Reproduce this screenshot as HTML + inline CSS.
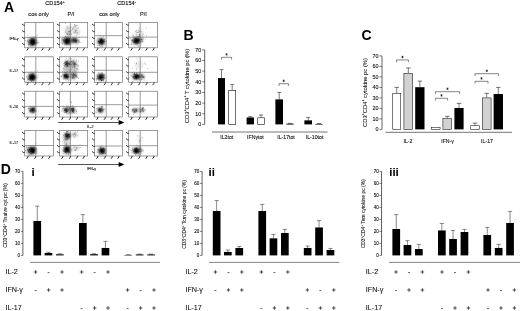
<!DOCTYPE html>
<html><head><meta charset="utf-8"><title>Figure</title>
<style>
html,body{margin:0;padding:0;background:#fff;}
body{width:520px;height:311px;overflow:hidden;font-family:"Liberation Sans",sans-serif;}
svg{display:block;filter:grayscale(1);}
svg text{font-family:"Liberation Sans",sans-serif;}
</style></head><body>
<svg width="520" height="311" viewBox="0 0 520 311">
<defs><filter id="bl" x="-50%" y="-50%" width="200%" height="200%"><feGaussianBlur stdDeviation="0.8"/></filter></defs>
<rect width="520" height="311" fill="#fff"/>
<text x="4.00" y="11.60" font-size="14" text-anchor="start" font-weight="bold" fill="#000"  >A</text>
<text x="183.60" y="39.60" font-size="14" text-anchor="start" font-weight="bold" fill="#000"  >B</text>
<text x="361.60" y="39.80" font-size="14" text-anchor="start" font-weight="bold" fill="#000"  >C</text>
<text x="0.80" y="173.80" font-size="14" text-anchor="start" font-weight="bold" fill="#000"  >D</text>
<text x="31.40" y="175.50" font-size="11.5" text-anchor="start" font-weight="bold" fill="#000"  >i</text>
<text x="208.60" y="175.50" font-size="11.5" text-anchor="start" font-weight="bold" fill="#000"  >ii</text>
<text x="389.20" y="175.50" font-size="11.5" text-anchor="start" font-weight="bold" fill="#000"  >iii</text>
<text x="55.00" y="5.40" font-size="5.6" text-anchor="middle" font-weight="normal" fill="#000" stroke="#000" stroke-width="0.1" >CD154<tspan font-size="3.4" dy="-2">+</tspan></text>
<text x="126.50" y="5.40" font-size="5.6" text-anchor="middle" font-weight="normal" fill="#000" stroke="#000" stroke-width="0.1" >CD154<tspan font-size="3.4" dy="-2">-</tspan></text>
<text x="38.60" y="16.20" font-size="5.6" text-anchor="middle" font-weight="normal" fill="#111" stroke="#111" stroke-width="0.1" >cos only</text>
<text x="71.00" y="16.20" font-size="5.6" text-anchor="middle" font-weight="normal" fill="#111" stroke="#111" stroke-width="0.1" >P/I</text>
<text x="109.40" y="16.20" font-size="5.6" text-anchor="middle" font-weight="normal" fill="#111" stroke="#111" stroke-width="0.1" >cos only</text>
<text x="143.40" y="16.20" font-size="5.6" text-anchor="middle" font-weight="normal" fill="#111" stroke="#111" stroke-width="0.1" >P/I</text>
<text x="9.60" y="39.90" font-size="3.7" text-anchor="start" font-weight="normal" fill="#111" stroke="#111" stroke-width="0.1" >IFN-γ</text>
<text x="9.60" y="72.10" font-size="3.7" text-anchor="start" font-weight="normal" fill="#111" stroke="#111" stroke-width="0.1" >IL-17</text>
<text x="9.60" y="108.40" font-size="3.7" text-anchor="start" font-weight="normal" fill="#111" stroke="#111" stroke-width="0.1" >IL-10</text>
<text x="9.60" y="144.40" font-size="3.7" text-anchor="start" font-weight="normal" fill="#111" stroke="#111" stroke-width="0.1" >IL-17</text>
<g filter="url(#bl)">
<ellipse cx="32.9" cy="41.8" rx="2.9" ry="3.4" fill="#000" opacity="1.0"/>
<ellipse cx="32.4" cy="41.8" rx="5.0" ry="4.6" fill="#000" opacity="0.45"/>
</g>
<path d="M31.8 43.1h.01M31.9 41.0h.01M30.1 41.2h.01M35.4 42.9h.01M35.2 42.4h.01M33.5 42.3h.01M28.2 44.0h.01M33.8 43.1h.01M28.1 37.3h.01M30.2 40.6h.01M33.3 41.7h.01M33.9 40.1h.01M33.3 42.8h.01M30.8 46.3h.01M33.9 44.9h.01M30.9 39.9h.01M31.6 41.5h.01M34.1 42.4h.01M31.3 39.3h.01M31.1 45.0h.01M30.4 42.4h.01M33.6 37.9h.01M32.6 45.2h.01M27.3 41.0h.01M32.2 39.7h.01M33.8 41.6h.01M28.7 44.0h.01M34.2 44.3h.01M36.2 42.7h.01M32.8 38.4h.01M34.1 40.2h.01M31.3 38.5h.01M30.0 40.4h.01M35.9 36.5h.01M28.7 42.4h.01M36.3 43.3h.01M27.6 35.3h.01M33.4 39.9h.01M29.6 44.3h.01M35.4 42.2h.01M33.1 42.9h.01M36.6 43.4h.01M33.8 43.2h.01M28.4 45.1h.01M35.0 43.2h.01M27.4 40.2h.01M34.7 37.1h.01M32.0 44.5h.01M29.1 46.0h.01M33.9 41.4h.01M33.3 43.5h.01M32.8 44.8h.01M30.8 40.7h.01M35.2 41.9h.01M30.2 44.3h.01M36.3 40.6h.01M28.9 41.4h.01M32.1 41.0h.01M36.2 39.1h.01M35.8 38.5h.01M30.5 43.4h.01M35.4 44.0h.01M33.4 42.2h.01M32.9 43.3h.01M32.0 42.5h.01M34.0 41.8h.01M34.5 43.3h.01M37.7 42.6h.01M31.4 40.8h.01M32.5 44.2h.01M31.6 42.8h.01M37.3 35.1h.01M29.6 42.4h.01M33.5 42.4h.01M31.4 43.5h.01M33.2 40.4h.01M38.8 42.7h.01M31.1 41.5h.01M31.9 41.6h.01M25.4 40.5h.01" stroke="#000" stroke-opacity="0.5" stroke-width="0.65" stroke-linecap="round" fill="none"/>
<rect x="24.70" y="22.40" width="28.70" height="25.40" fill="none" stroke="#686868" stroke-width="0.65"/>
<line x1="35.80" y1="22.40" x2="35.80" y2="47.80" stroke="#686868" stroke-width="0.65" />
<line x1="24.70" y1="37.40" x2="53.40" y2="37.40" stroke="#686868" stroke-width="0.65" />
<path d="M22.10 23.94L23.80 25.24H24.70M22.10 30.42L23.80 31.72H24.70M22.10 37.02L23.80 38.32H24.70M22.10 43.24L23.80 44.54H24.70M28.00 47.80V48.80L26.70 50.60M35.75 47.80V48.80L34.45 50.60M42.92 47.80V48.80L41.62 50.60M49.81 47.80V48.80L48.51 50.60" stroke="#222" stroke-width="0.95" fill="none"/>
<g filter="url(#bl)">
<ellipse cx="67.0" cy="41.0" rx="2.8" ry="2.8" fill="#000" opacity="1.0"/>
<ellipse cx="67.2" cy="41.0" rx="4.8" ry="4.2" fill="#000" opacity="0.45"/>
<ellipse cx="75.0" cy="40.4" rx="3.0" ry="2.4" fill="#000" opacity="0.6"/>
<ellipse cx="71" cy="40.6" rx="8" ry="3.2" fill="#000" opacity="0.28"/>
<ellipse cx="68" cy="31" rx="3.2" ry="5" fill="#000" opacity="0.18"/>
<ellipse cx="75.5" cy="30.5" rx="3.2" ry="4.5" fill="#000" opacity="0.15"/>
</g>
<path d="M69.4 38.3h.01M66.8 43.2h.01M69.1 44.4h.01M62.9 40.2h.01M66.2 42.4h.01M69.6 34.8h.01M69.6 37.7h.01M68.6 37.6h.01M67.4 43.7h.01M66.6 41.4h.01M68.9 41.3h.01M66.8 44.5h.01M69.5 40.3h.01M73.6 38.4h.01M69.2 40.4h.01M67.3 42.6h.01M67.5 42.5h.01M63.3 37.5h.01M68.5 38.8h.01M64.5 37.6h.01M70.0 42.7h.01M70.5 38.8h.01M67.0 38.4h.01M68.8 44.7h.01M64.9 44.6h.01M69.4 40.6h.01M62.3 44.2h.01M66.8 39.6h.01M68.0 41.9h.01M70.6 38.7h.01M69.7 44.4h.01M70.5 40.6h.01M65.2 43.3h.01M67.3 41.3h.01M70.4 40.4h.01M61.5 40.1h.01M62.6 42.9h.01M67.8 39.6h.01M67.0 42.9h.01M67.2 44.1h.01M66.9 43.4h.01M70.6 44.7h.01M65.4 43.0h.01M62.5 38.5h.01M62.3 43.5h.01M64.0 41.0h.01M66.5 40.9h.01M65.6 41.5h.01M71.3 41.1h.01M68.3 43.3h.01M66.5 38.1h.01M65.7 43.5h.01M63.0 39.6h.01M69.4 42.8h.01M67.0 42.9h.01M67.4 38.3h.01M63.2 39.5h.01M69.2 39.7h.01M64.8 39.2h.01M63.3 40.7h.01M64.2 41.8h.01M61.3 41.8h.01M65.5 36.5h.01M68.7 40.4h.01M61.6 39.0h.01M67.7 39.9h.01M68.9 42.7h.01M68.6 41.8h.01M70.2 42.5h.01M68.1 36.2h.01M77.0 42.8h.01M74.3 39.6h.01M79.3 37.2h.01M76.0 44.8h.01M73.0 41.6h.01M79.2 40.2h.01M76.2 42.0h.01M73.0 40.2h.01M75.6 41.9h.01M74.9 40.0h.01M72.8 39.8h.01M77.0 40.6h.01M73.1 38.9h.01M80.9 42.5h.01M76.4 35.7h.01M76.4 41.3h.01M78.7 41.2h.01M74.9 41.3h.01M70.7 42.3h.01M75.7 39.1h.01M77.9 43.7h.01M71.9 39.2h.01M75.6 40.7h.01M74.1 38.6h.01M79.7 42.3h.01M72.4 38.0h.01M78.7 42.2h.01M79.0 41.9h.01M73.1 40.9h.01M70.2 39.1h.01M74.9 41.3h.01M73.4 40.2h.01M76.0 41.1h.01M76.4 40.8h.01M74.3 41.8h.01M75.1 38.9h.01M73.6 40.4h.01M74.8 40.7h.01M75.0 40.7h.01M74.7 38.1h.01M75.9 42.3h.01M76.0 40.1h.01M76.0 38.7h.01M70.8 40.5h.01M73.0 41.7h.01M65.6 23.1h.01M65.7 36.5h.01M67.2 27.1h.01M66.3 33.2h.01M69.1 32.1h.01M71.3 33.8h.01M68.0 33.4h.01M71.6 34.6h.01M70.3 28.0h.01M67.7 33.8h.01M67.3 34.9h.01M69.3 34.4h.01M67.5 39.6h.01M70.7 30.8h.01M68.2 39.8h.01M67.2 34.3h.01M70.2 31.5h.01M65.4 32.1h.01M68.8 35.1h.01M69.7 31.6h.01M69.9 33.2h.01M68.5 31.7h.01M74.9 32.6h.01M73.0 28.6h.01M75.5 26.1h.01M74.5 24.5h.01M73.9 32.2h.01M76.9 30.3h.01M74.9 26.2h.01M79.9 32.0h.01M78.1 27.9h.01M75.1 25.0h.01M77.4 33.3h.01M70.9 30.3h.01M77.0 25.2h.01M71.1 27.3h.01M74.0 26.3h.01M75.6 31.2h.01M77.0 32.6h.01M79.1 34.0h.01M72.4 29.0h.01M73.0 27.3h.01M75.3 30.5h.01M76.7 25.7h.01" stroke="#000" stroke-opacity="0.5" stroke-width="0.65" stroke-linecap="round" fill="none"/>
<rect x="59.60" y="22.40" width="28.10" height="25.40" fill="none" stroke="#686868" stroke-width="0.65"/>
<line x1="70.40" y1="22.40" x2="70.40" y2="47.80" stroke="#686868" stroke-width="0.65" />
<line x1="59.60" y1="37.20" x2="87.70" y2="37.20" stroke="#686868" stroke-width="0.65" />
<path d="M57.00 23.94L58.70 25.24H59.60M57.00 30.42L58.70 31.72H59.60M57.00 37.02L58.70 38.32H59.60M57.00 43.24L58.70 44.54H59.60M62.83 47.80V48.80L61.53 50.60M70.42 47.80V48.80L69.12 50.60M77.44 47.80V48.80L76.14 50.60M84.19 47.80V48.80L82.89 50.60" stroke="#222" stroke-width="0.95" fill="none"/>
<g filter="url(#bl)">
<ellipse cx="101.3" cy="41.6" rx="2.5" ry="2.8" fill="#000" opacity="1.0"/>
<ellipse cx="101.2" cy="41.6" rx="4.4" ry="4.0" fill="#000" opacity="0.42"/>
</g>
<path d="M98.5 41.5h.01M100.8 40.9h.01M101.1 39.9h.01M102.7 42.4h.01M101.0 40.1h.01M100.8 35.6h.01M99.0 41.7h.01M97.9 42.0h.01M101.5 38.6h.01M100.6 40.9h.01M102.2 42.9h.01M101.1 39.7h.01M100.9 41.5h.01M102.8 42.2h.01M99.6 38.6h.01M100.4 40.0h.01M98.8 41.3h.01M100.1 41.8h.01M102.4 40.7h.01M106.3 40.9h.01M103.6 41.9h.01M103.7 36.4h.01M99.5 42.1h.01M102.5 46.7h.01M101.9 44.4h.01M102.9 43.7h.01M102.3 41.3h.01M102.3 39.2h.01M103.8 39.4h.01M101.7 46.3h.01M100.7 41.6h.01M103.8 41.7h.01M99.4 42.2h.01M102.5 43.2h.01M99.5 45.5h.01M104.9 41.6h.01M101.8 40.7h.01M104.3 40.0h.01M102.7 40.5h.01M99.7 43.2h.01M104.1 41.6h.01M99.7 43.4h.01M101.1 42.3h.01M104.6 44.1h.01M100.1 46.6h.01M101.2 43.3h.01M99.8 41.5h.01M97.4 45.5h.01M104.2 38.9h.01M97.9 38.0h.01M103.8 40.6h.01M101.1 40.9h.01M100.9 39.2h.01M101.3 38.4h.01M101.0 42.3h.01" stroke="#000" stroke-opacity="0.5" stroke-width="0.65" stroke-linecap="round" fill="none"/>
<rect x="94.60" y="22.40" width="27.80" height="25.40" fill="none" stroke="#686868" stroke-width="0.65"/>
<line x1="106.20" y1="22.40" x2="106.20" y2="47.80" stroke="#686868" stroke-width="0.65" />
<line x1="94.60" y1="35.70" x2="122.40" y2="35.70" stroke="#686868" stroke-width="0.65" />
<path d="M92.00 23.94L93.70 25.24H94.60M92.00 30.42L93.70 31.72H94.60M92.00 37.02L93.70 38.32H94.60M92.00 43.24L93.70 44.54H94.60M97.80 47.80V48.80L96.50 50.60M105.30 47.80V48.80L104.00 50.60M112.25 47.80V48.80L110.95 50.60M118.93 47.80V48.80L117.63 50.60" stroke="#222" stroke-width="0.95" fill="none"/>
<g filter="url(#bl)">
<ellipse cx="136.5" cy="40.6" rx="2.6" ry="2.6" fill="#000" opacity="1.0"/>
<ellipse cx="137.0" cy="40.6" rx="5.6" ry="4.0" fill="#000" opacity="0.42"/>
<ellipse cx="139.5" cy="33.5" rx="4.5" ry="4.0" fill="#000" opacity="0.1"/>
</g>
<path d="M138.6 40.0h.01M133.9 41.0h.01M135.4 44.7h.01M139.6 40.3h.01M135.4 38.8h.01M133.8 39.7h.01M138.0 41.9h.01M138.9 46.1h.01M134.6 40.6h.01M146.5 35.7h.01M135.2 41.0h.01M137.5 41.7h.01M136.2 41.6h.01M137.2 42.6h.01M130.6 38.3h.01M137.0 37.9h.01M133.4 42.2h.01M134.8 42.3h.01M139.5 41.4h.01M138.7 40.3h.01M132.2 40.5h.01M138.5 39.2h.01M136.7 42.5h.01M134.0 42.3h.01M143.3 39.2h.01M137.5 40.2h.01M142.2 41.4h.01M140.1 38.8h.01M136.9 40.6h.01M131.0 44.3h.01M140.1 36.1h.01M139.5 40.3h.01M138.5 41.6h.01M131.9 40.0h.01M142.1 39.1h.01M133.5 37.1h.01M132.8 41.5h.01M142.8 41.7h.01M137.8 46.4h.01M135.2 38.8h.01M138.8 42.0h.01M133.5 37.6h.01M138.0 41.2h.01M132.6 40.1h.01M135.2 41.8h.01M136.6 40.4h.01M135.8 43.3h.01M141.7 39.6h.01M139.9 38.6h.01M137.2 42.5h.01M142.1 39.6h.01M136.7 41.1h.01M131.9 40.6h.01M134.7 41.6h.01M133.2 35.5h.01M137.1 41.3h.01M135.1 42.9h.01M136.1 39.0h.01M138.6 36.5h.01M134.7 40.5h.01M139.9 40.2h.01M138.0 38.9h.01M138.0 44.9h.01M134.7 46.8h.01M134.8 40.6h.01M137.6 43.3h.01M132.8 35.1h.01M139.1 42.7h.01M137.7 41.3h.01M140.2 41.6h.01M142.7 37.4h.01M135.7 31.6h.01M139.8 39.6h.01M140.1 46.2h.01M137.0 39.9h.01M135.3 38.4h.01M134.9 42.3h.01M137.1 40.8h.01M136.4 43.0h.01M138.7 40.2h.01M139.3 40.2h.01M133.1 44.4h.01M138.6 38.1h.01M140.7 41.5h.01M131.7 44.8h.01M138.1 42.9h.01M137.7 40.2h.01M131.7 43.1h.01M137.1 39.9h.01M138.2 40.8h.01M139.3 39.6h.01M136.9 35.0h.01M135.6 42.4h.01M141.5 39.7h.01M136.6 44.7h.01M135.9 42.5h.01M142.7 40.7h.01M141.2 38.8h.01M137.7 40.4h.01M137.4 43.5h.01M145.1 38.9h.01M135.0 41.9h.01M133.4 41.9h.01M138.9 39.9h.01M138.8 36.6h.01M139.6 36.6h.01M134.6 39.2h.01M135.6 42.8h.01M137.3 39.6h.01M141.1 37.9h.01M139.5 34.5h.01M143.2 34.2h.01M135.6 40.5h.01M146.1 27.9h.01M139.4 34.7h.01M142.4 35.4h.01M138.7 30.5h.01M139.8 36.4h.01M136.2 30.6h.01M139.4 28.1h.01M138.7 32.3h.01M140.9 31.5h.01M136.9 32.4h.01M139.4 31.6h.01M139.5 35.6h.01M143.1 38.3h.01M137.1 32.3h.01" stroke="#000" stroke-opacity="0.5" stroke-width="0.65" stroke-linecap="round" fill="none"/>
<rect x="128.70" y="22.40" width="28.80" height="25.40" fill="none" stroke="#686868" stroke-width="0.65"/>
<line x1="140.20" y1="22.40" x2="140.20" y2="47.80" stroke="#686868" stroke-width="0.65" />
<line x1="128.70" y1="37.10" x2="157.50" y2="37.10" stroke="#686868" stroke-width="0.65" />
<path d="M126.10 23.94L127.80 25.24H128.70M126.10 30.42L127.80 31.72H128.70M126.10 37.02L127.80 38.32H128.70M126.10 43.24L127.80 44.54H128.70M132.01 47.80V48.80L130.71 50.60M139.79 47.80V48.80L138.49 50.60M146.99 47.80V48.80L145.69 50.60M153.90 47.80V48.80L152.60 50.60" stroke="#222" stroke-width="0.95" fill="none"/>
<g filter="url(#bl)">
<ellipse cx="32.2" cy="77.3" rx="2.9" ry="3.2" fill="#000" opacity="1.0"/>
<ellipse cx="32.0" cy="77.2" rx="4.6" ry="4.4" fill="#000" opacity="0.45"/>
</g>
<path d="M26.0 81.8h.01M30.3 77.1h.01M33.3 73.9h.01M33.1 77.1h.01M27.6 77.9h.01M34.9 72.7h.01M33.9 77.7h.01M33.1 78.3h.01M35.1 76.7h.01M34.1 76.2h.01M33.7 75.2h.01M31.7 81.4h.01M33.1 76.8h.01M29.3 75.3h.01M32.5 79.5h.01M33.0 78.5h.01M31.9 80.4h.01M31.1 75.9h.01M34.1 77.4h.01M31.3 75.8h.01M31.4 78.7h.01M32.8 74.3h.01M33.0 77.6h.01M29.6 79.1h.01M31.3 76.4h.01M33.9 80.4h.01M30.3 78.3h.01M30.8 80.1h.01M30.4 79.1h.01M37.3 71.1h.01M31.0 78.4h.01M31.8 75.6h.01M37.2 77.4h.01M28.1 79.2h.01M27.9 80.0h.01M30.6 77.5h.01M35.0 77.5h.01M28.7 73.1h.01M34.8 79.0h.01M30.0 79.3h.01M33.2 78.8h.01M26.6 76.5h.01M34.2 79.0h.01M34.1 71.3h.01M32.4 78.4h.01M38.1 74.9h.01M31.2 77.3h.01M34.1 76.1h.01M34.8 75.3h.01M32.6 75.9h.01M32.4 75.5h.01M28.2 79.8h.01M32.7 75.9h.01M32.5 79.6h.01M29.7 76.9h.01M33.3 78.5h.01M31.2 72.1h.01M35.0 78.0h.01M32.0 76.5h.01M32.6 76.2h.01M29.5 75.4h.01M30.6 75.7h.01M29.2 78.7h.01M28.9 78.8h.01M29.6 78.0h.01M35.3 77.7h.01M30.2 77.3h.01M32.4 73.0h.01M30.5 77.6h.01" stroke="#000" stroke-opacity="0.5" stroke-width="0.65" stroke-linecap="round" fill="none"/>
<rect x="24.70" y="56.80" width="28.70" height="25.60" fill="none" stroke="#686868" stroke-width="0.65"/>
<line x1="35.80" y1="56.80" x2="35.80" y2="82.40" stroke="#686868" stroke-width="0.65" />
<line x1="24.70" y1="72.30" x2="53.40" y2="72.30" stroke="#686868" stroke-width="0.65" />
<path d="M22.10 58.36L23.80 59.66H24.70M22.10 64.89L23.80 66.19H24.70M22.10 71.54L23.80 72.84H24.70M22.10 77.82L23.80 79.12H24.70M28.00 82.40V83.40L26.70 85.20M35.75 82.40V83.40L34.45 85.20M42.92 82.40V83.40L41.62 85.20M49.81 82.40V83.40L48.51 85.20" stroke="#222" stroke-width="0.95" fill="none"/>
<g filter="url(#bl)">
<ellipse cx="66.0" cy="76.3" rx="2.6" ry="2.6" fill="#000" opacity="0.95"/>
<ellipse cx="66.8" cy="63.6" rx="2.4" ry="2.3" fill="#000" opacity="0.7"/>
<ellipse cx="74.3" cy="63.6" rx="2.4" ry="2.3" fill="#000" opacity="0.42"/>
<ellipse cx="74.3" cy="75.8" rx="2.6" ry="2.3" fill="#000" opacity="0.4"/>
<ellipse cx="70.4" cy="70" rx="7.5" ry="9.5" fill="#000" opacity="0.22"/>
</g>
<path d="M65.1 76.5h.01M67.5 77.8h.01M67.8 77.5h.01M65.4 76.3h.01M65.5 75.7h.01M65.6 72.9h.01M65.3 76.3h.01M64.1 76.3h.01M67.0 76.0h.01M70.2 71.1h.01M65.6 72.6h.01M68.0 81.6h.01M61.0 76.6h.01M67.0 75.7h.01M67.1 71.8h.01M67.7 77.0h.01M66.0 75.1h.01M67.3 75.3h.01M66.4 75.3h.01M61.5 76.2h.01M66.4 77.8h.01M64.2 76.2h.01M67.2 76.6h.01M68.5 80.3h.01M64.2 72.5h.01M67.7 79.4h.01M67.8 77.9h.01M64.8 74.9h.01M67.8 74.5h.01M62.4 74.3h.01M71.0 80.1h.01M64.6 74.8h.01M66.5 74.8h.01M68.6 76.1h.01M63.8 78.9h.01M64.8 76.7h.01M66.0 75.7h.01M66.6 74.9h.01M62.3 71.9h.01M63.5 74.8h.01M66.0 76.4h.01M67.1 76.5h.01M64.4 74.9h.01M61.8 76.0h.01M67.0 77.4h.01M66.6 63.3h.01M68.7 63.6h.01M68.3 64.7h.01M67.2 66.1h.01M65.7 62.9h.01M65.2 62.1h.01M69.9 66.9h.01M66.8 64.7h.01M69.2 65.1h.01M69.2 61.2h.01M65.5 64.5h.01M69.7 63.8h.01M65.1 62.9h.01M65.5 62.0h.01M69.8 62.4h.01M66.8 67.7h.01M69.2 64.2h.01M65.6 64.4h.01M70.0 64.8h.01M69.3 63.8h.01M67.8 63.2h.01M67.7 66.1h.01M63.9 63.5h.01M67.3 62.5h.01M66.2 65.1h.01M70.8 64.8h.01M67.5 60.7h.01M70.7 63.7h.01M66.7 61.5h.01M66.7 61.5h.01M66.9 64.5h.01M66.9 64.1h.01M65.1 66.3h.01M65.5 60.1h.01M66.4 62.1h.01M64.8 62.9h.01M67.4 61.4h.01M66.5 66.3h.01M68.2 63.3h.01M67.1 63.4h.01M74.2 65.0h.01M74.1 59.0h.01M74.3 61.9h.01M75.6 62.4h.01M74.6 67.7h.01M72.2 61.5h.01M71.5 59.0h.01M70.5 64.3h.01M73.0 60.1h.01M71.3 64.8h.01M72.7 62.9h.01M75.0 66.2h.01M78.2 65.6h.01M74.6 63.9h.01M77.9 66.3h.01M73.7 64.5h.01M74.9 63.7h.01M73.3 61.1h.01M73.2 60.7h.01M76.7 64.6h.01M71.9 66.3h.01M76.1 60.0h.01M78.0 65.1h.01M78.4 61.3h.01M75.4 64.4h.01M74.7 63.9h.01M76.4 60.8h.01M71.8 61.0h.01M73.2 62.4h.01M75.0 64.1h.01M74.4 74.6h.01M73.4 77.5h.01M75.8 76.0h.01M73.7 78.6h.01M73.1 77.0h.01M76.6 75.3h.01M76.0 73.8h.01M76.3 76.2h.01M71.1 77.0h.01M72.5 78.1h.01M72.9 75.5h.01M74.9 75.2h.01M74.8 74.8h.01M75.6 75.8h.01M74.7 70.8h.01M76.6 75.9h.01M70.7 76.0h.01M75.2 77.7h.01M72.1 78.6h.01M74.0 80.1h.01M74.0 77.0h.01M73.6 73.8h.01M76.5 77.4h.01M77.4 77.3h.01M73.2 72.8h.01M73.0 74.6h.01M72.7 76.8h.01M75.0 75.3h.01M71.1 69.2h.01M71.3 74.1h.01M74.2 66.2h.01M64.4 77.9h.01M70.9 76.1h.01M63.8 68.2h.01M70.5 62.1h.01M68.3 74.0h.01M74.7 78.8h.01M66.9 62.3h.01M72.5 75.2h.01M71.2 62.8h.01M73.5 74.4h.01M72.6 67.3h.01M71.6 74.3h.01M68.2 59.9h.01M71.7 72.6h.01M70.5 74.9h.01M68.1 69.5h.01M69.2 73.1h.01M76.8 68.6h.01M78.6 78.4h.01M73.6 73.2h.01M77.5 69.0h.01M70.0 64.2h.01M72.3 77.4h.01M72.5 72.3h.01M69.6 70.9h.01M64.7 75.8h.01M68.8 63.9h.01M67.4 65.5h.01M73.8 75.8h.01M65.0 75.1h.01M74.0 66.8h.01M64.5 65.9h.01M67.9 71.9h.01M69.0 58.8h.01M71.3 61.6h.01M74.0 63.4h.01M67.6 65.3h.01M68.2 77.1h.01M73.8 73.3h.01M71.7 61.5h.01M68.3 67.0h.01M66.5 72.8h.01M67.4 66.1h.01M66.2 58.7h.01M72.8 77.3h.01M71.1 64.6h.01" stroke="#000" stroke-opacity="0.5" stroke-width="0.65" stroke-linecap="round" fill="none"/>
<rect x="59.60" y="56.80" width="28.10" height="25.60" fill="none" stroke="#686868" stroke-width="0.65"/>
<line x1="70.40" y1="56.80" x2="70.40" y2="82.40" stroke="#686868" stroke-width="0.65" />
<line x1="59.60" y1="72.30" x2="87.70" y2="72.30" stroke="#686868" stroke-width="0.65" />
<path d="M57.00 58.36L58.70 59.66H59.60M57.00 64.89L58.70 66.19H59.60M57.00 71.54L58.70 72.84H59.60M57.00 77.82L58.70 79.12H59.60M62.83 82.40V83.40L61.53 85.20M70.42 82.40V83.40L69.12 85.20M77.44 82.40V83.40L76.14 85.20M84.19 82.40V83.40L82.89 85.20" stroke="#222" stroke-width="0.95" fill="none"/>
<g filter="url(#bl)">
<ellipse cx="101.0" cy="76.9" rx="2.5" ry="2.7" fill="#000" opacity="1.0"/>
<ellipse cx="100.8" cy="76.9" rx="4.2" ry="4.0" fill="#000" opacity="0.42"/>
</g>
<path d="M103.5 77.6h.01M102.8 80.2h.01M103.3 75.9h.01M103.1 78.6h.01M97.4 76.0h.01M97.7 76.7h.01M102.1 74.6h.01M96.3 79.8h.01M101.6 80.1h.01M97.9 79.2h.01M105.4 81.3h.01M100.3 77.5h.01M100.5 79.1h.01M103.1 77.1h.01M97.8 78.5h.01M99.8 78.3h.01M101.4 80.5h.01M103.3 75.9h.01M101.6 80.8h.01M99.6 77.9h.01M103.4 79.7h.01M101.9 74.0h.01M98.0 77.4h.01M98.9 79.4h.01M102.5 73.2h.01M99.0 77.3h.01M99.7 76.6h.01M101.8 75.1h.01M101.8 75.5h.01M99.6 78.1h.01M99.5 77.5h.01M104.3 77.0h.01M100.5 78.5h.01M100.0 79.3h.01M98.0 78.3h.01M99.7 75.1h.01M104.7 75.0h.01M104.7 78.3h.01M104.0 74.8h.01M103.4 80.1h.01M100.5 76.6h.01M106.2 77.3h.01M99.9 75.5h.01M101.8 77.6h.01M101.2 80.7h.01M100.1 77.9h.01M104.0 74.7h.01M103.1 80.9h.01M97.8 74.5h.01M98.5 72.8h.01M101.8 72.8h.01M101.9 80.1h.01M97.2 76.2h.01M96.6 78.6h.01" stroke="#000" stroke-opacity="0.5" stroke-width="0.65" stroke-linecap="round" fill="none"/>
<rect x="94.60" y="56.80" width="27.80" height="25.60" fill="none" stroke="#686868" stroke-width="0.65"/>
<line x1="106.20" y1="56.80" x2="106.20" y2="82.40" stroke="#686868" stroke-width="0.65" />
<line x1="94.60" y1="70.30" x2="122.40" y2="70.30" stroke="#686868" stroke-width="0.65" />
<path d="M92.00 58.36L93.70 59.66H94.60M92.00 64.89L93.70 66.19H94.60M92.00 71.54L93.70 72.84H94.60M92.00 77.82L93.70 79.12H94.60M97.80 82.40V83.40L96.50 85.20M105.30 82.40V83.40L104.00 85.20M112.25 82.40V83.40L110.95 85.20M118.93 82.40V83.40L117.63 85.20" stroke="#222" stroke-width="0.95" fill="none"/>
<g filter="url(#bl)">
<ellipse cx="136.5" cy="76.6" rx="2.7" ry="2.3" fill="#000" opacity="1.0"/>
<ellipse cx="138.2" cy="76.6" rx="6.4" ry="3.2" fill="#000" opacity="0.42"/>
<ellipse cx="139" cy="65" rx="5" ry="4.5" fill="#000" opacity="0.07"/>
</g>
<path d="M135.3 76.1h.01M138.2 77.7h.01M136.8 76.6h.01M136.0 76.8h.01M133.8 76.7h.01M131.0 75.6h.01M144.9 76.8h.01M133.5 77.1h.01M134.5 73.3h.01M135.3 78.1h.01M139.4 76.4h.01M134.7 74.4h.01M142.9 77.1h.01M134.6 72.4h.01M133.1 81.6h.01M133.9 76.4h.01M138.8 76.3h.01M137.0 73.9h.01M134.2 80.0h.01M135.3 78.3h.01M131.9 76.1h.01M138.9 78.7h.01M134.0 77.8h.01M139.4 75.1h.01M139.7 74.8h.01M135.1 76.6h.01M134.4 73.7h.01M136.5 78.1h.01M136.5 79.1h.01M133.8 74.0h.01M143.6 77.4h.01M141.4 74.9h.01M140.9 77.1h.01M140.3 76.7h.01M142.3 75.3h.01M134.5 73.6h.01M142.2 75.1h.01M134.2 74.7h.01M136.4 74.1h.01M137.0 75.3h.01M136.0 74.7h.01M138.1 75.7h.01M138.4 77.1h.01M139.2 72.2h.01M136.1 75.0h.01M140.8 73.4h.01M135.4 76.0h.01M136.8 78.6h.01M136.4 78.5h.01M132.7 73.0h.01M142.4 77.5h.01M139.8 76.8h.01M139.7 74.2h.01M141.4 75.5h.01M141.5 76.8h.01M130.9 74.0h.01M142.1 76.3h.01M136.6 77.1h.01M136.5 75.5h.01M138.4 76.9h.01M143.5 76.7h.01M144.8 80.2h.01M144.2 78.7h.01M138.5 76.9h.01M137.5 75.1h.01M137.8 75.3h.01M143.9 77.7h.01M136.4 72.8h.01M137.8 75.8h.01M134.1 74.3h.01M129.9 77.7h.01M137.8 81.8h.01M137.9 76.3h.01M143.2 76.9h.01M138.6 75.9h.01M135.8 79.6h.01M141.6 80.0h.01M136.7 76.7h.01M134.8 78.5h.01M133.0 77.7h.01M141.9 79.4h.01M134.6 78.8h.01M135.4 75.1h.01M133.2 78.9h.01M144.8 62.9h.01M136.3 63.8h.01M147.8 68.5h.01M137.1 58.7h.01M136.6 69.2h.01M145.5 64.1h.01M136.6 63.2h.01M132.4 68.2h.01" stroke="#000" stroke-opacity="0.5" stroke-width="0.65" stroke-linecap="round" fill="none"/>
<rect x="128.70" y="56.80" width="28.80" height="25.60" fill="none" stroke="#686868" stroke-width="0.65"/>
<line x1="140.20" y1="56.80" x2="140.20" y2="82.40" stroke="#686868" stroke-width="0.65" />
<line x1="128.70" y1="72.30" x2="157.50" y2="72.30" stroke="#686868" stroke-width="0.65" />
<path d="M126.10 58.36L127.80 59.66H128.70M126.10 64.89L127.80 66.19H128.70M126.10 71.54L127.80 72.84H128.70M126.10 77.82L127.80 79.12H128.70M132.01 82.40V83.40L130.71 85.20M139.79 82.40V83.40L138.49 85.20M146.99 82.40V83.40L145.69 85.20M153.90 82.40V83.40L152.60 85.20" stroke="#222" stroke-width="0.95" fill="none"/>
<g filter="url(#bl)">
<ellipse cx="32.7" cy="110.1" rx="2.3" ry="2.3" fill="#000" opacity="0.95"/>
<ellipse cx="32.3" cy="110.0" rx="3.8" ry="3.2" fill="#000" opacity="0.35"/>
</g>
<path d="M30.2 111.9h.01M29.0 107.7h.01M33.0 108.6h.01M34.0 110.0h.01M30.1 111.1h.01M34.1 106.6h.01M36.1 110.9h.01M33.9 106.7h.01M31.0 109.4h.01M34.6 107.4h.01M30.6 106.3h.01M31.9 110.6h.01M29.0 108.9h.01M33.4 112.9h.01M33.7 109.5h.01M30.0 108.3h.01M31.1 110.3h.01M32.3 113.0h.01M33.0 108.1h.01M35.5 111.7h.01M32.6 108.7h.01M28.7 108.2h.01M34.2 108.6h.01M29.8 110.4h.01M32.9 111.1h.01M33.7 112.5h.01M30.7 111.8h.01M30.4 111.2h.01M32.8 110.4h.01M34.3 110.0h.01M34.6 111.6h.01M32.7 109.0h.01M30.9 109.1h.01M32.0 110.0h.01M38.4 111.1h.01M33.9 108.5h.01M31.0 109.4h.01M32.8 108.1h.01" stroke="#000" stroke-opacity="0.5" stroke-width="0.65" stroke-linecap="round" fill="none"/>
<rect x="24.70" y="91.20" width="28.70" height="25.80" fill="none" stroke="#686868" stroke-width="0.65"/>
<line x1="35.80" y1="91.20" x2="35.80" y2="117.00" stroke="#686868" stroke-width="0.65" />
<line x1="24.70" y1="106.40" x2="53.40" y2="106.40" stroke="#686868" stroke-width="0.65" />
<path d="M22.10 92.78L23.80 94.08H24.70M22.10 99.36L23.80 100.66H24.70M22.10 106.07L23.80 107.37H24.70M22.10 112.39L23.80 113.69H24.70M28.00 117.00V118.00L26.70 119.80M35.75 117.00V118.00L34.45 119.80M42.92 117.00V118.00L41.62 119.80M49.81 117.00V118.00L48.51 119.80" stroke="#222" stroke-width="0.95" fill="none"/>
<g filter="url(#bl)">
<ellipse cx="66.2" cy="110.1" rx="2.4" ry="2.4" fill="#000" opacity="0.6"/>
<ellipse cx="72.6" cy="110.1" rx="2.4" ry="2.4" fill="#000" opacity="0.5"/>
<ellipse cx="69.4" cy="110.1" rx="6.5" ry="3.4" fill="#000" opacity="0.28"/>
</g>
<path d="M69.3 109.1h.01M68.2 105.9h.01M66.2 110.6h.01M66.6 111.2h.01M66.7 110.4h.01M62.6 108.8h.01M61.7 111.2h.01M66.8 109.7h.01M64.6 109.1h.01M69.7 113.2h.01M66.1 112.4h.01M63.2 106.6h.01M65.3 108.5h.01M65.1 110.4h.01M71.9 108.9h.01M66.3 110.6h.01M66.1 111.8h.01M69.6 107.9h.01M66.5 109.6h.01M66.9 107.3h.01M62.9 105.9h.01M67.2 110.4h.01M66.3 105.8h.01M65.5 108.7h.01M63.5 108.5h.01M67.5 111.1h.01M66.2 111.0h.01M65.1 110.2h.01M66.3 111.1h.01M66.1 109.8h.01M65.9 108.9h.01M70.4 111.0h.01M67.0 114.2h.01M68.9 107.3h.01M67.5 111.6h.01M69.8 112.5h.01M67.7 108.0h.01M64.5 110.6h.01M67.2 108.3h.01M65.5 109.4h.01M72.7 110.7h.01M72.1 107.9h.01M75.0 113.0h.01M72.4 111.9h.01M73.4 111.3h.01M73.5 108.7h.01M73.7 111.9h.01M70.9 113.6h.01M76.6 113.4h.01M76.4 111.4h.01M72.0 109.0h.01M71.1 110.3h.01M72.5 111.3h.01M68.8 114.3h.01M76.9 110.1h.01M73.9 111.0h.01M73.1 109.7h.01M72.4 108.6h.01M72.9 110.1h.01M73.2 108.6h.01M72.7 110.2h.01M73.7 108.2h.01M73.4 111.9h.01M73.7 109.4h.01M71.7 109.7h.01M74.0 112.9h.01M72.3 108.9h.01M73.3 110.5h.01M70.9 108.8h.01M72.4 111.3h.01M70.3 108.3h.01M73.5 107.9h.01M72.8 110.7h.01M72.4 108.3h.01M69.2 109.3h.01M70.7 108.2h.01M73.5 106.3h.01M68.7 110.0h.01M73.1 108.7h.01M71.5 108.8h.01M72.2 113.8h.01M67.9 111.0h.01M65.9 112.1h.01M74.0 110.1h.01M65.1 110.9h.01M73.8 112.4h.01M72.5 106.0h.01M66.8 113.1h.01M64.7 112.5h.01M76.6 111.7h.01M73.7 109.3h.01M64.7 109.8h.01M68.6 109.9h.01M72.0 109.7h.01M71.1 102.8h.01M70.9 105.7h.01M71.4 102.2h.01M70.7 100.7h.01" stroke="#000" stroke-opacity="0.5" stroke-width="0.65" stroke-linecap="round" fill="none"/>
<rect x="59.60" y="91.20" width="28.10" height="25.80" fill="none" stroke="#686868" stroke-width="0.65"/>
<line x1="70.40" y1="91.20" x2="70.40" y2="117.00" stroke="#686868" stroke-width="0.65" />
<line x1="59.60" y1="106.60" x2="87.70" y2="106.60" stroke="#686868" stroke-width="0.65" />
<path d="M57.00 92.78L58.70 94.08H59.60M57.00 99.36L58.70 100.66H59.60M57.00 106.07L58.70 107.37H59.60M57.00 112.39L58.70 113.69H59.60M62.83 117.00V118.00L61.53 119.80M70.42 117.00V118.00L69.12 119.80M77.44 117.00V118.00L76.14 119.80M84.19 117.00V118.00L82.89 119.80" stroke="#222" stroke-width="0.95" fill="none"/>
<g filter="url(#bl)">
<ellipse cx="100.4" cy="110.1" rx="2.2" ry="2.2" fill="#000" opacity="0.8"/>
<ellipse cx="100.4" cy="110.1" rx="3.6" ry="3.2" fill="#000" opacity="0.3"/>
</g>
<path d="M103.0 110.4h.01M98.4 109.1h.01M100.1 109.3h.01M102.5 108.0h.01M101.3 110.4h.01M98.2 110.2h.01M100.2 111.0h.01M99.5 110.6h.01M97.2 108.1h.01M101.9 112.0h.01M100.4 109.0h.01M102.5 106.3h.01M98.9 111.3h.01M101.6 108.2h.01M96.8 112.7h.01M100.7 108.5h.01M100.5 111.7h.01M95.5 112.1h.01M101.8 106.4h.01M101.9 106.9h.01M102.6 110.8h.01M104.7 109.0h.01M100.4 112.0h.01M99.2 108.8h.01M99.7 110.0h.01M98.3 111.0h.01M101.4 110.2h.01M103.6 109.5h.01M102.9 109.1h.01M101.8 106.6h.01M100.8 109.8h.01M99.5 109.0h.01M99.7 108.8h.01M96.2 109.0h.01" stroke="#000" stroke-opacity="0.5" stroke-width="0.65" stroke-linecap="round" fill="none"/>
<rect x="94.60" y="91.20" width="27.80" height="25.80" fill="none" stroke="#686868" stroke-width="0.65"/>
<line x1="106.20" y1="91.20" x2="106.20" y2="117.00" stroke="#686868" stroke-width="0.65" />
<line x1="94.60" y1="104.70" x2="122.40" y2="104.70" stroke="#686868" stroke-width="0.65" />
<path d="M92.00 92.78L93.70 94.08H94.60M92.00 99.36L93.70 100.66H94.60M92.00 106.07L93.70 107.37H94.60M92.00 112.39L93.70 113.69H94.60M97.80 117.00V118.00L96.50 119.80M105.30 117.00V118.00L104.00 119.80M112.25 117.00V118.00L110.95 119.80M118.93 117.00V118.00L117.63 119.80" stroke="#222" stroke-width="0.95" fill="none"/>
<g filter="url(#bl)">
<ellipse cx="134.8" cy="110.3" rx="2.4" ry="2.0" fill="#000" opacity="0.42"/>
<ellipse cx="142.3" cy="110.3" rx="2.2" ry="1.9" fill="#000" opacity="0.34"/>
<ellipse cx="138.6" cy="110.3" rx="6.5" ry="2.8" fill="#000" opacity="0.16"/>
</g>
<path d="M133.8 109.5h.01M132.8 110.1h.01M136.3 109.9h.01M133.9 112.3h.01M136.7 111.7h.01M137.0 109.8h.01M134.6 112.0h.01M133.7 110.1h.01M135.5 110.9h.01M134.3 111.8h.01M134.5 111.4h.01M136.8 111.3h.01M136.2 108.6h.01M132.3 109.4h.01M135.7 112.6h.01M132.5 110.8h.01M133.2 109.2h.01M134.3 111.3h.01M135.2 112.1h.01M132.9 111.6h.01M136.6 110.4h.01M135.7 109.5h.01M132.7 109.7h.01M133.6 114.6h.01M133.9 112.8h.01M135.2 110.8h.01M136.2 109.1h.01M136.5 110.9h.01M139.6 111.1h.01M143.3 110.9h.01M145.2 109.7h.01M143.2 111.3h.01M140.7 112.0h.01M139.7 108.5h.01M143.2 108.8h.01M142.1 108.0h.01M142.4 108.7h.01M142.9 108.2h.01M143.1 109.9h.01M142.4 110.2h.01M142.5 108.5h.01M137.7 110.3h.01M140.6 109.7h.01M143.1 107.5h.01M140.9 109.4h.01M140.4 110.8h.01M142.0 109.2h.01M140.5 111.4h.01M141.1 111.1h.01M143.1 107.6h.01" stroke="#000" stroke-opacity="0.5" stroke-width="0.65" stroke-linecap="round" fill="none"/>
<rect x="128.70" y="91.20" width="28.80" height="25.80" fill="none" stroke="#686868" stroke-width="0.65"/>
<line x1="140.20" y1="91.20" x2="140.20" y2="117.00" stroke="#686868" stroke-width="0.65" />
<line x1="128.70" y1="105.10" x2="157.50" y2="105.10" stroke="#686868" stroke-width="0.65" />
<path d="M126.10 92.78L127.80 94.08H128.70M126.10 99.36L127.80 100.66H128.70M126.10 106.07L127.80 107.37H128.70M126.10 112.39L127.80 113.69H128.70M132.01 117.00V118.00L130.71 119.80M139.79 117.00V118.00L138.49 119.80M146.99 117.00V118.00L145.69 119.80M153.90 117.00V118.00L152.60 119.80" stroke="#222" stroke-width="0.95" fill="none"/>
<g filter="url(#bl)">
<ellipse cx="32.4" cy="150.4" rx="2.9" ry="3.1" fill="#000" opacity="1.0"/>
<ellipse cx="31.6" cy="150.4" rx="5.0" ry="4.4" fill="#000" opacity="0.45"/>
</g>
<path d="M29.2 150.4h.01M32.9 152.3h.01M34.1 152.9h.01M31.0 149.9h.01M34.0 149.4h.01M34.7 146.6h.01M33.7 150.0h.01M26.9 152.8h.01M32.8 150.5h.01M29.2 149.3h.01M35.9 148.4h.01M28.9 150.1h.01M31.0 148.2h.01M29.8 152.9h.01M28.2 155.1h.01M30.6 147.8h.01M34.0 151.8h.01M29.3 152.2h.01M27.2 148.2h.01M34.9 149.8h.01M28.6 151.6h.01M34.4 150.3h.01M27.3 149.6h.01M33.1 152.2h.01M36.8 149.8h.01M30.7 150.3h.01M35.1 148.1h.01M35.4 143.8h.01M34.1 148.8h.01M33.2 152.1h.01M28.9 150.2h.01M32.6 151.8h.01M29.6 148.0h.01M31.5 149.9h.01M28.1 152.6h.01M30.6 153.8h.01M34.2 150.5h.01M33.9 147.7h.01M31.2 149.0h.01M28.7 150.4h.01M31.6 153.8h.01M29.6 149.3h.01M33.1 151.4h.01M32.1 149.3h.01M33.3 151.3h.01M27.2 149.8h.01M28.4 147.6h.01M32.4 150.5h.01M32.3 148.3h.01M31.5 148.2h.01M33.0 152.1h.01M36.6 153.4h.01M29.9 149.3h.01M29.6 151.1h.01M37.1 152.1h.01M26.3 147.4h.01M28.6 151.6h.01M32.0 151.1h.01M36.6 148.4h.01M29.8 155.1h.01M32.9 148.5h.01M26.7 146.7h.01M25.6 150.6h.01M32.1 152.8h.01M31.6 148.7h.01M30.1 155.0h.01M27.4 150.8h.01M32.1 151.9h.01M30.9 151.6h.01M34.1 150.0h.01M30.8 150.0h.01M29.5 149.9h.01" stroke="#000" stroke-opacity="0.5" stroke-width="0.65" stroke-linecap="round" fill="none"/>
<rect x="24.70" y="130.60" width="28.70" height="25.40" fill="none" stroke="#686868" stroke-width="0.65"/>
<line x1="35.80" y1="130.60" x2="35.80" y2="156.00" stroke="#686868" stroke-width="0.65" />
<line x1="24.70" y1="145.50" x2="53.40" y2="145.50" stroke="#686868" stroke-width="0.65" />
<path d="M22.10 132.14L23.80 133.44H24.70M22.10 138.62L23.80 139.92H24.70M22.10 145.22L23.80 146.52H24.70M22.10 151.44L23.80 152.74H24.70M28.00 156.00V157.00L26.70 158.80M35.75 156.00V157.00L34.45 158.80M42.92 156.00V157.00L41.62 158.80M49.81 156.00V157.00L48.51 158.80" stroke="#222" stroke-width="0.95" fill="none"/>
<g filter="url(#bl)">
<ellipse cx="67.1" cy="149.75" rx="2.7" ry="2.8" fill="#000" opacity="1.0"/>
<ellipse cx="67.6" cy="135.3" rx="2.4" ry="2.5" fill="#000" opacity="0.85"/>
<ellipse cx="67.2" cy="149.7" rx="4.6" ry="4.2" fill="#000" opacity="0.42"/>
<ellipse cx="67.2" cy="136.2" rx="3.8" ry="4.0" fill="#000" opacity="0.32"/>
<ellipse cx="66.2" cy="142" rx="3.0" ry="6" fill="#000" opacity="0.16"/>
<ellipse cx="75" cy="134.5" rx="3.4" ry="3.0" fill="#000" opacity="0.14"/>
<ellipse cx="76" cy="148.3" rx="3.4" ry="2.6" fill="#000" opacity="0.14"/>
</g>
<path d="M66.4 150.2h.01M70.0 152.6h.01M66.1 151.0h.01M67.7 151.4h.01M67.1 150.3h.01M66.1 148.0h.01M69.0 152.6h.01M68.6 150.7h.01M67.7 148.7h.01M63.2 151.2h.01M67.5 148.5h.01M65.0 152.5h.01M63.1 153.6h.01M68.5 154.9h.01M65.5 149.7h.01M66.0 150.0h.01M66.6 148.1h.01M69.5 148.0h.01M66.0 150.9h.01M65.9 148.7h.01M67.9 148.9h.01M64.4 149.5h.01M66.6 153.5h.01M64.7 151.8h.01M65.4 148.9h.01M66.4 150.3h.01M69.0 153.5h.01M65.7 152.6h.01M69.3 151.5h.01M65.4 151.7h.01M66.9 150.5h.01M66.5 151.2h.01M69.6 152.2h.01M66.6 151.9h.01M70.3 147.6h.01M70.3 146.8h.01M68.3 151.0h.01M70.4 150.3h.01M66.0 147.9h.01M64.3 151.4h.01M66.6 148.1h.01M68.3 148.0h.01M66.1 148.7h.01M70.7 152.9h.01M66.8 146.2h.01M67.7 149.9h.01M67.9 150.9h.01M66.4 151.7h.01M68.9 150.2h.01M66.2 148.6h.01M68.6 147.3h.01M66.7 148.1h.01M64.0 151.0h.01M67.0 149.8h.01M69.0 146.4h.01M67.0 150.3h.01M68.9 147.3h.01M68.7 150.2h.01M70.1 152.2h.01M68.3 154.4h.01M67.5 134.5h.01M66.8 133.4h.01M67.4 131.5h.01M67.3 136.3h.01M69.5 134.7h.01M70.3 134.0h.01M67.2 131.5h.01M66.0 133.7h.01M70.4 136.5h.01M65.3 136.5h.01M68.4 134.9h.01M67.5 134.8h.01M66.4 131.8h.01M67.3 138.0h.01M70.3 134.8h.01M66.0 135.0h.01M69.3 136.1h.01M66.4 136.1h.01M67.1 136.5h.01M66.7 132.4h.01M67.6 137.0h.01M65.3 135.2h.01M69.2 134.6h.01M66.2 139.6h.01M69.1 137.5h.01M65.7 138.7h.01M64.3 134.3h.01M68.9 138.1h.01M65.7 134.0h.01M67.9 131.5h.01M68.7 136.5h.01M66.6 136.5h.01M69.0 136.0h.01M68.5 138.5h.01M66.6 135.7h.01M66.5 137.5h.01M66.7 136.4h.01M67.8 135.5h.01M70.8 135.2h.01M70.2 137.1h.01M70.1 135.1h.01M69.3 136.9h.01M66.3 135.9h.01M67.3 135.3h.01M70.0 133.9h.01M63.5 135.3h.01M65.6 139.5h.01M66.4 144.2h.01M69.5 143.2h.01M67.2 139.2h.01M67.4 147.2h.01M68.7 134.5h.01M67.9 148.1h.01M67.8 136.2h.01M65.9 144.3h.01M67.1 138.9h.01M64.9 145.7h.01M64.1 147.5h.01M66.4 143.2h.01M64.1 139.7h.01M67.6 136.3h.01M70.0 136.6h.01M64.3 142.2h.01M76.0 135.9h.01M74.2 134.1h.01M74.5 133.4h.01M69.5 136.3h.01M75.5 134.8h.01M73.7 135.0h.01M75.0 134.4h.01M77.3 131.2h.01M75.5 132.5h.01M74.3 137.4h.01M72.7 134.3h.01M73.7 136.3h.01M73.9 145.4h.01M77.1 147.7h.01M75.3 150.2h.01M74.1 147.7h.01M76.3 149.0h.01M74.9 150.1h.01M80.7 147.6h.01M80.0 144.7h.01M79.0 147.7h.01M76.3 147.7h.01M74.7 146.1h.01M75.2 150.5h.01" stroke="#000" stroke-opacity="0.5" stroke-width="0.65" stroke-linecap="round" fill="none"/>
<rect x="59.60" y="130.60" width="28.10" height="25.40" fill="none" stroke="#686868" stroke-width="0.65"/>
<line x1="70.40" y1="130.60" x2="70.40" y2="156.00" stroke="#686868" stroke-width="0.65" />
<line x1="59.60" y1="145.50" x2="87.70" y2="145.50" stroke="#686868" stroke-width="0.65" />
<path d="M57.00 132.14L58.70 133.44H59.60M57.00 138.62L58.70 139.92H59.60M57.00 145.22L58.70 146.52H59.60M57.00 151.44L58.70 152.74H59.60M62.83 156.00V157.00L61.53 158.80M70.42 156.00V157.00L69.12 158.80M77.44 156.00V157.00L76.14 158.80M84.19 156.00V157.00L82.89 158.80" stroke="#222" stroke-width="0.95" fill="none"/>
<g filter="url(#bl)">
<ellipse cx="102.1" cy="150.7" rx="2.5" ry="2.7" fill="#000" opacity="1.0"/>
<ellipse cx="101.8" cy="150.7" rx="4.2" ry="3.8" fill="#000" opacity="0.42"/>
</g>
<path d="M104.2 150.0h.01M100.7 149.3h.01M99.3 154.3h.01M103.2 150.9h.01M100.8 148.6h.01M104.6 152.3h.01M99.8 152.7h.01M99.5 152.0h.01M99.8 149.9h.01M102.8 151.6h.01M103.9 149.0h.01M105.1 153.4h.01M101.8 151.6h.01M100.2 150.4h.01M99.0 150.9h.01M102.2 153.4h.01M103.8 152.3h.01M101.0 150.2h.01M101.1 151.1h.01M97.7 152.3h.01M98.5 149.7h.01M101.8 149.7h.01M105.3 150.5h.01M105.1 153.1h.01M100.8 151.5h.01M104.5 150.0h.01M102.0 149.6h.01M101.9 150.0h.01M102.0 152.7h.01M104.7 151.0h.01M102.2 152.4h.01M101.2 148.6h.01M104.1 148.8h.01M103.8 148.8h.01M105.7 148.6h.01M103.6 153.7h.01M99.8 153.7h.01M100.1 147.1h.01M103.3 152.1h.01M101.4 145.6h.01M101.7 150.1h.01M101.0 150.1h.01M98.0 149.6h.01M105.6 153.8h.01M101.0 149.3h.01M102.6 152.8h.01M103.3 148.3h.01M102.1 151.0h.01M104.8 153.1h.01M102.9 153.2h.01M101.0 153.8h.01M100.9 151.5h.01M103.7 148.9h.01M100.3 147.2h.01M102.1 150.6h.01" stroke="#000" stroke-opacity="0.5" stroke-width="0.65" stroke-linecap="round" fill="none"/>
<rect x="94.60" y="130.60" width="27.80" height="25.40" fill="none" stroke="#686868" stroke-width="0.65"/>
<line x1="106.20" y1="130.60" x2="106.20" y2="156.00" stroke="#686868" stroke-width="0.65" />
<line x1="94.60" y1="146.00" x2="122.40" y2="146.00" stroke="#686868" stroke-width="0.65" />
<path d="M92.00 132.14L93.70 133.44H94.60M92.00 138.62L93.70 139.92H94.60M92.00 145.22L93.70 146.52H94.60M92.00 151.44L93.70 152.74H94.60M97.80 156.00V157.00L96.50 158.80M105.30 156.00V157.00L104.00 158.80M112.25 156.00V157.00L110.95 158.80M118.93 156.00V157.00L117.63 158.80" stroke="#222" stroke-width="0.95" fill="none"/>
<g filter="url(#bl)">
<ellipse cx="136.2" cy="150.6" rx="2.6" ry="2.6" fill="#000" opacity="1.0"/>
<ellipse cx="137.4" cy="150.6" rx="5.2" ry="3.6" fill="#000" opacity="0.42"/>
<ellipse cx="140" cy="140" rx="3" ry="5" fill="#000" opacity="0.05"/>
</g>
<path d="M136.3 151.6h.01M131.3 150.6h.01M137.4 150.1h.01M139.4 154.1h.01M136.0 148.7h.01M135.5 150.8h.01M138.8 148.9h.01M140.0 148.5h.01M139.5 151.5h.01M138.5 154.9h.01M136.5 150.3h.01M138.5 152.3h.01M133.5 151.2h.01M135.1 151.9h.01M141.0 150.7h.01M136.9 151.0h.01M138.8 150.9h.01M136.1 149.1h.01M136.7 153.0h.01M136.9 153.3h.01M130.0 149.7h.01M138.0 150.6h.01M132.6 149.3h.01M140.7 148.0h.01M134.4 148.4h.01M135.7 151.9h.01M138.9 146.5h.01M141.3 149.4h.01M135.6 154.0h.01M137.0 148.1h.01M135.4 149.1h.01M134.4 149.9h.01M139.6 151.3h.01M134.4 150.8h.01M137.3 152.1h.01M136.3 151.5h.01M143.1 150.8h.01M134.2 151.3h.01M135.0 149.9h.01M137.7 151.3h.01M136.4 152.3h.01M136.7 148.0h.01M139.6 149.9h.01M140.6 149.3h.01M138.8 151.2h.01M129.7 147.6h.01M134.1 153.4h.01M131.9 152.4h.01M140.2 151.6h.01M139.1 149.6h.01M137.2 151.1h.01M138.4 152.0h.01M136.6 149.2h.01M135.6 151.4h.01M132.6 148.1h.01M136.1 149.5h.01M136.4 145.2h.01M136.3 150.1h.01M139.4 146.6h.01M136.3 151.6h.01M138.6 153.0h.01M140.1 148.5h.01M139.0 149.9h.01M135.0 153.7h.01M135.4 148.9h.01M136.1 148.9h.01M140.0 151.4h.01M141.1 151.4h.01M135.5 152.7h.01M135.4 149.7h.01M139.7 140.2h.01M142.3 137.7h.01M140.7 139.9h.01M137.6 135.8h.01M139.6 141.6h.01" stroke="#000" stroke-opacity="0.5" stroke-width="0.65" stroke-linecap="round" fill="none"/>
<rect x="128.70" y="130.60" width="28.80" height="25.40" fill="none" stroke="#686868" stroke-width="0.65"/>
<line x1="140.20" y1="130.60" x2="140.20" y2="156.00" stroke="#686868" stroke-width="0.65" />
<line x1="128.70" y1="145.70" x2="157.50" y2="145.70" stroke="#686868" stroke-width="0.65" />
<path d="M126.10 132.14L127.80 133.44H128.70M126.10 138.62L127.80 139.92H128.70M126.10 145.22L127.80 146.52H128.70M126.10 151.44L127.80 152.74H128.70M132.01 156.00V157.00L130.71 158.80M139.79 156.00V157.00L138.49 158.80M146.99 156.00V157.00L145.69 158.80M153.90 156.00V157.00L152.60 158.80" stroke="#222" stroke-width="0.95" fill="none"/>
<line x1="58.20" y1="122.50" x2="119.50" y2="122.50" stroke="#222" stroke-width="0.8" />
<polygon points="118.6,120.0 124.4,122.5 118.6,125.0" fill="#000"/>
<text x="90.40" y="128.10" font-size="3.7" text-anchor="middle" font-weight="normal" fill="#111" stroke="#111" stroke-width="0.1" >IL-2</text>
<line x1="58.20" y1="164.50" x2="119.50" y2="164.50" stroke="#222" stroke-width="0.8" />
<polygon points="118.6,162.0 124.4,164.5 118.6,167.0" fill="#000"/>
<text x="91.60" y="170.10" font-size="3.7" text-anchor="middle" font-weight="normal" fill="#111" stroke="#111" stroke-width="0.1" >IFN-γ</text>
<line x1="204.70" y1="49.85" x2="204.70" y2="124.40" stroke="#222" stroke-width="0.7" />
<line x1="202.10" y1="124.40" x2="204.70" y2="124.40" stroke="#222" stroke-width="0.6" />
<text x="201.30" y="126.34" font-size="5.4" text-anchor="end" font-weight="normal" fill="#111" stroke="#111" stroke-width="0.1" >0</text>
<line x1="202.10" y1="113.75" x2="204.70" y2="113.75" stroke="#222" stroke-width="0.6" />
<text x="201.30" y="115.69" font-size="5.4" text-anchor="end" font-weight="normal" fill="#111" stroke="#111" stroke-width="0.1" >10</text>
<line x1="202.10" y1="103.10" x2="204.70" y2="103.10" stroke="#222" stroke-width="0.6" />
<text x="201.30" y="105.04" font-size="5.4" text-anchor="end" font-weight="normal" fill="#111" stroke="#111" stroke-width="0.1" >20</text>
<line x1="202.10" y1="92.45" x2="204.70" y2="92.45" stroke="#222" stroke-width="0.6" />
<text x="201.30" y="94.39" font-size="5.4" text-anchor="end" font-weight="normal" fill="#111" stroke="#111" stroke-width="0.1" >30</text>
<line x1="202.10" y1="81.80" x2="204.70" y2="81.80" stroke="#222" stroke-width="0.6" />
<text x="201.30" y="83.74" font-size="5.4" text-anchor="end" font-weight="normal" fill="#111" stroke="#111" stroke-width="0.1" >40</text>
<line x1="202.10" y1="71.15" x2="204.70" y2="71.15" stroke="#222" stroke-width="0.6" />
<text x="201.30" y="73.09" font-size="5.4" text-anchor="end" font-weight="normal" fill="#111" stroke="#111" stroke-width="0.1" >50</text>
<line x1="202.10" y1="60.50" x2="204.70" y2="60.50" stroke="#222" stroke-width="0.6" />
<text x="201.30" y="62.44" font-size="5.4" text-anchor="end" font-weight="normal" fill="#111" stroke="#111" stroke-width="0.1" >60</text>
<line x1="202.10" y1="49.85" x2="204.70" y2="49.85" stroke="#222" stroke-width="0.6" />
<text x="201.30" y="51.79" font-size="5.4" text-anchor="end" font-weight="normal" fill="#111" stroke="#111" stroke-width="0.1" >70</text>
<text transform="translate(188.50,86.00) rotate(-90)" font-size="5.9" text-anchor="middle" fill="#111" stroke="#111" stroke-width="0.08">CD3<tspan font-size="3.54" dy="-2.24">+</tspan><tspan dy="2.24">CD4</tspan><tspan font-size="3.54" dy="-2.24">+</tspan><tspan dy="2.24"> T cytokine pc (%)</tspan></text>
<line x1="221.50" y1="69.55" x2="221.50" y2="78.07" stroke="#222" stroke-width="0.6" />
<line x1="219.50" y1="69.55" x2="223.50" y2="69.55" stroke="#222" stroke-width="0.6" />
<rect x="218.00" y="78.07" width="7.00" height="46.33" fill="#000" stroke="none" stroke-width="0.7"/>
<line x1="232.20" y1="84.46" x2="232.20" y2="90.32" stroke="#222" stroke-width="0.6" />
<line x1="230.20" y1="84.46" x2="234.20" y2="84.46" stroke="#222" stroke-width="0.6" />
<rect x="228.70" y="90.62" width="7.00" height="33.78" fill="#fff" stroke="#111" stroke-width="0.6"/>
<line x1="250.30" y1="116.63" x2="250.30" y2="117.48" stroke="#222" stroke-width="0.6" />
<line x1="248.30" y1="116.63" x2="252.30" y2="116.63" stroke="#222" stroke-width="0.6" />
<rect x="246.60" y="117.48" width="7.40" height="6.92" fill="#000" stroke="none" stroke-width="0.7"/>
<line x1="261.00" y1="115.03" x2="261.00" y2="117.48" stroke="#222" stroke-width="0.6" />
<line x1="259.00" y1="115.03" x2="263.00" y2="115.03" stroke="#222" stroke-width="0.6" />
<rect x="257.70" y="117.78" width="6.60" height="6.62" fill="#fff" stroke="#111" stroke-width="0.6"/>
<line x1="279.20" y1="92.45" x2="279.20" y2="99.37" stroke="#222" stroke-width="0.6" />
<line x1="277.20" y1="92.45" x2="281.20" y2="92.45" stroke="#222" stroke-width="0.6" />
<rect x="275.40" y="99.37" width="7.60" height="25.03" fill="#000" stroke="none" stroke-width="0.7"/>
<line x1="290.00" y1="123.44" x2="290.00" y2="123.65" stroke="#222" stroke-width="0.6" />
<line x1="288.00" y1="123.44" x2="292.00" y2="123.44" stroke="#222" stroke-width="0.6" />
<rect x="286.70" y="123.95" width="6.60" height="0.45" fill="#fff" stroke="#111" stroke-width="0.6"/>
<line x1="308.20" y1="117.48" x2="308.20" y2="120.35" stroke="#222" stroke-width="0.6" />
<line x1="306.20" y1="117.48" x2="310.20" y2="117.48" stroke="#222" stroke-width="0.6" />
<rect x="304.40" y="120.35" width="7.60" height="4.05" fill="#000" stroke="none" stroke-width="0.7"/>
<line x1="319.00" y1="123.55" x2="319.00" y2="123.87" stroke="#222" stroke-width="0.6" />
<line x1="317.00" y1="123.55" x2="321.00" y2="123.55" stroke="#222" stroke-width="0.6" />
<rect x="315.70" y="124.17" width="6.60" height="0.23" fill="#fff" stroke="#111" stroke-width="0.6"/>
<line x1="212.00" y1="132.00" x2="327.60" y2="132.00" stroke="#666" stroke-width="0.9" />
<text x="226.80" y="139.40" font-size="5.2" text-anchor="middle" font-weight="normal" fill="#111" stroke="#111" stroke-width="0.1" >IL2tot</text>
<text x="255.40" y="139.40" font-size="5.2" text-anchor="middle" font-weight="normal" fill="#111" stroke="#111" stroke-width="0.1" >IFNγtot</text>
<text x="286.00" y="139.40" font-size="5.2" text-anchor="middle" font-weight="normal" fill="#111" stroke="#111" stroke-width="0.1" >IL-17tot</text>
<text x="314.60" y="139.40" font-size="5.2" text-anchor="middle" font-weight="normal" fill="#111" stroke="#111" stroke-width="0.1" >IL-10tot</text>
<polyline points="221.6,59.599999999999994 221.6,57.3 231.6,57.3 231.6,59.599999999999994" fill="none" stroke="#333" stroke-width="0.6"/>
<path d="M226.60 53.25L226.60 55.55M227.60 53.82L225.60 54.98M227.60 54.98L225.60 53.82" stroke="#111" stroke-width="0.65" fill="none"/>
<polyline points="279.0,86.0 279.0,83.7 288.4,83.7 288.4,86.0" fill="none" stroke="#333" stroke-width="0.6"/>
<path d="M283.70 79.65L283.70 81.95M284.70 80.22L282.70 81.38M284.70 81.38L282.70 80.22" stroke="#111" stroke-width="0.65" fill="none"/>
<line x1="382.00" y1="55.90" x2="382.00" y2="129.40" stroke="#222" stroke-width="0.7" />
<line x1="379.40" y1="129.40" x2="382.00" y2="129.40" stroke="#222" stroke-width="0.6" />
<text x="378.60" y="131.34" font-size="5.4" text-anchor="end" font-weight="normal" fill="#111" stroke="#111" stroke-width="0.1" >0</text>
<line x1="379.40" y1="118.90" x2="382.00" y2="118.90" stroke="#222" stroke-width="0.6" />
<text x="378.60" y="120.84" font-size="5.4" text-anchor="end" font-weight="normal" fill="#111" stroke="#111" stroke-width="0.1" >10</text>
<line x1="379.40" y1="108.40" x2="382.00" y2="108.40" stroke="#222" stroke-width="0.6" />
<text x="378.60" y="110.34" font-size="5.4" text-anchor="end" font-weight="normal" fill="#111" stroke="#111" stroke-width="0.1" >20</text>
<line x1="379.40" y1="97.90" x2="382.00" y2="97.90" stroke="#222" stroke-width="0.6" />
<text x="378.60" y="99.84" font-size="5.4" text-anchor="end" font-weight="normal" fill="#111" stroke="#111" stroke-width="0.1" >30</text>
<line x1="379.40" y1="87.40" x2="382.00" y2="87.40" stroke="#222" stroke-width="0.6" />
<text x="378.60" y="89.34" font-size="5.4" text-anchor="end" font-weight="normal" fill="#111" stroke="#111" stroke-width="0.1" >40</text>
<line x1="379.40" y1="76.90" x2="382.00" y2="76.90" stroke="#222" stroke-width="0.6" />
<text x="378.60" y="78.84" font-size="5.4" text-anchor="end" font-weight="normal" fill="#111" stroke="#111" stroke-width="0.1" >50</text>
<line x1="379.40" y1="66.40" x2="382.00" y2="66.40" stroke="#222" stroke-width="0.6" />
<text x="378.60" y="68.34" font-size="5.4" text-anchor="end" font-weight="normal" fill="#111" stroke="#111" stroke-width="0.1" >60</text>
<line x1="379.40" y1="55.90" x2="382.00" y2="55.90" stroke="#222" stroke-width="0.6" />
<text x="378.60" y="57.84" font-size="5.4" text-anchor="end" font-weight="normal" fill="#111" stroke="#111" stroke-width="0.1" >70</text>
<text transform="translate(366.50,92.50) rotate(-90)" font-size="5.83" text-anchor="middle" fill="#111" stroke="#111" stroke-width="0.08">CD3<tspan font-size="3.50" dy="-2.22">+</tspan><tspan dy="2.22">CD4</tspan><tspan font-size="3.50" dy="-2.22">+</tspan><tspan dy="2.22"> cytokine pc (%)</tspan></text>
<line x1="396.70" y1="87.40" x2="396.70" y2="93.39" stroke="#222" stroke-width="0.6" />
<line x1="394.40" y1="87.40" x2="399.00" y2="87.40" stroke="#222" stroke-width="0.6" />
<rect x="392.70" y="93.69" width="8.00" height="35.72" fill="#fff" stroke="#222" stroke-width="0.6"/>
<line x1="408.30" y1="67.97" x2="408.30" y2="73.02" stroke="#222" stroke-width="0.6" />
<line x1="406.00" y1="67.97" x2="410.60" y2="67.97" stroke="#222" stroke-width="0.6" />
<rect x="403.90" y="73.31" width="8.80" height="56.09" fill="#d2d2d2" stroke="#222" stroke-width="0.6"/>
<line x1="419.85" y1="81.10" x2="419.85" y2="87.19" stroke="#222" stroke-width="0.6" />
<line x1="417.55" y1="81.10" x2="422.15" y2="81.10" stroke="#222" stroke-width="0.6" />
<rect x="415.20" y="87.19" width="9.30" height="42.21" fill="#000" stroke="none" stroke-width="0.7"/>
<rect x="431.30" y="127.60" width="8.80" height="1.80" fill="#fff" stroke="#222" stroke-width="0.6"/>
<line x1="447.30" y1="116.38" x2="447.30" y2="118.38" stroke="#222" stroke-width="0.6" />
<line x1="445.00" y1="116.38" x2="449.60" y2="116.38" stroke="#222" stroke-width="0.6" />
<rect x="442.90" y="118.67" width="8.80" height="10.72" fill="#d2d2d2" stroke="#222" stroke-width="0.6"/>
<line x1="459.00" y1="103.36" x2="459.00" y2="107.98" stroke="#222" stroke-width="0.6" />
<line x1="456.70" y1="103.36" x2="461.30" y2="103.36" stroke="#222" stroke-width="0.6" />
<rect x="454.40" y="107.98" width="9.20" height="21.42" fill="#000" stroke="none" stroke-width="0.7"/>
<line x1="475.00" y1="123.10" x2="475.00" y2="125.41" stroke="#222" stroke-width="0.6" />
<line x1="472.70" y1="123.10" x2="477.30" y2="123.10" stroke="#222" stroke-width="0.6" />
<rect x="470.70" y="125.71" width="8.60" height="3.69" fill="#fff" stroke="#222" stroke-width="0.6"/>
<line x1="486.70" y1="93.39" x2="486.70" y2="97.59" stroke="#222" stroke-width="0.6" />
<line x1="484.40" y1="93.39" x2="489.00" y2="93.39" stroke="#222" stroke-width="0.6" />
<rect x="482.30" y="97.89" width="8.80" height="31.52" fill="#d2d2d2" stroke="#222" stroke-width="0.6"/>
<line x1="498.30" y1="87.40" x2="498.30" y2="94.02" stroke="#222" stroke-width="0.6" />
<line x1="496.00" y1="87.40" x2="500.60" y2="87.40" stroke="#222" stroke-width="0.6" />
<rect x="493.60" y="94.02" width="9.40" height="35.39" fill="#000" stroke="none" stroke-width="0.7"/>
<line x1="385.60" y1="132.30" x2="512.00" y2="132.30" stroke="#666" stroke-width="0.9" />
<text x="408.00" y="143.00" font-size="5.2" text-anchor="middle" font-weight="normal" fill="#111" stroke="#111" stroke-width="0.1" >IL-2</text>
<text x="447.60" y="143.00" font-size="5.2" text-anchor="middle" font-weight="normal" fill="#111" stroke="#111" stroke-width="0.1" >IFN-γ</text>
<text x="487.00" y="143.00" font-size="5.2" text-anchor="middle" font-weight="normal" fill="#111" stroke="#111" stroke-width="0.1" >IL-17</text>
<polyline points="396.6,62.199999999999996 396.6,59.9 408.4,59.9 408.4,62.199999999999996" fill="none" stroke="#333" stroke-width="0.6"/>
<path d="M402.50 55.85L402.50 58.15M403.50 56.42L401.50 57.58M403.50 57.58L401.50 56.42" stroke="#111" stroke-width="0.65" fill="none"/>
<polyline points="435.4,94.0 435.4,91.7 459.6,91.7 459.6,94.0" fill="none" stroke="#333" stroke-width="0.6"/>
<path d="M447.50 87.65L447.50 89.95M448.50 88.22L446.50 89.38M448.50 89.38L446.50 88.22" stroke="#111" stroke-width="0.65" fill="none"/>
<polyline points="435.4,100.6 435.4,98.3 447.6,98.3 447.6,100.6" fill="none" stroke="#333" stroke-width="0.6"/>
<path d="M441.50 94.25L441.50 96.55M442.50 94.82L440.50 95.97M442.50 95.97L440.50 94.82" stroke="#111" stroke-width="0.65" fill="none"/>
<polyline points="475.0,76.0 475.0,73.7 498.6,73.7 498.6,76.0" fill="none" stroke="#333" stroke-width="0.6"/>
<path d="M486.80 69.65L486.80 71.95M487.80 70.22L485.80 71.38M487.80 71.38L485.80 70.22" stroke="#111" stroke-width="0.65" fill="none"/>
<polyline points="475.0,83.6 475.0,81.3 488.0,81.3 488.0,83.6" fill="none" stroke="#333" stroke-width="0.6"/>
<path d="M481.50 77.25L481.50 79.55M482.50 77.82L480.50 78.97M482.50 78.97L480.50 77.82" stroke="#111" stroke-width="0.65" fill="none"/>
<line x1="22.90" y1="171.40" x2="22.90" y2="255.40" stroke="#222" stroke-width="0.7" />
<line x1="20.90" y1="255.40" x2="22.90" y2="255.40" stroke="#222" stroke-width="0.6" />
<text x="20.10" y="257.02" font-size="4.5" text-anchor="end" font-weight="normal" fill="#111" stroke="#111" stroke-width="0.1" >0</text>
<line x1="20.90" y1="243.40" x2="22.90" y2="243.40" stroke="#222" stroke-width="0.6" />
<text x="20.10" y="245.02" font-size="4.5" text-anchor="end" font-weight="normal" fill="#111" stroke="#111" stroke-width="0.1" >10</text>
<line x1="20.90" y1="231.40" x2="22.90" y2="231.40" stroke="#222" stroke-width="0.6" />
<text x="20.10" y="233.02" font-size="4.5" text-anchor="end" font-weight="normal" fill="#111" stroke="#111" stroke-width="0.1" >20</text>
<line x1="20.90" y1="219.40" x2="22.90" y2="219.40" stroke="#222" stroke-width="0.6" />
<text x="20.10" y="221.02" font-size="4.5" text-anchor="end" font-weight="normal" fill="#111" stroke="#111" stroke-width="0.1" >30</text>
<line x1="20.90" y1="207.40" x2="22.90" y2="207.40" stroke="#222" stroke-width="0.6" />
<text x="20.10" y="209.02" font-size="4.5" text-anchor="end" font-weight="normal" fill="#111" stroke="#111" stroke-width="0.1" >40</text>
<line x1="20.90" y1="195.40" x2="22.90" y2="195.40" stroke="#222" stroke-width="0.6" />
<text x="20.10" y="197.02" font-size="4.5" text-anchor="end" font-weight="normal" fill="#111" stroke="#111" stroke-width="0.1" >50</text>
<line x1="20.90" y1="183.40" x2="22.90" y2="183.40" stroke="#222" stroke-width="0.6" />
<text x="20.10" y="185.02" font-size="4.5" text-anchor="end" font-weight="normal" fill="#111" stroke="#111" stroke-width="0.1" >60</text>
<line x1="20.90" y1="171.40" x2="22.90" y2="171.40" stroke="#222" stroke-width="0.6" />
<text x="20.10" y="173.02" font-size="4.5" text-anchor="end" font-weight="normal" fill="#111" stroke="#111" stroke-width="0.1" >70</text>
<text transform="translate(7.10,215.50) rotate(-90)" font-size="5.09" text-anchor="middle" fill="#111" stroke="#111" stroke-width="0.08">CD3<tspan font-size="3.05" dy="-1.93">+</tspan><tspan dy="1.93">CD4</tspan><tspan font-size="3.05" dy="-1.93">+</tspan><tspan dy="1.93"> Tnaive cyt pc (%)</tspan></text>
<line x1="37.25" y1="206.20" x2="37.25" y2="220.96" stroke="#3a3a3a" stroke-width="0.6" />
<line x1="35.15" y1="206.20" x2="39.35" y2="206.20" stroke="#3a3a3a" stroke-width="0.6" />
<rect x="33.40" y="220.96" width="7.70" height="34.44" fill="#000" stroke="none" stroke-width="0.7"/>
<line x1="48.45" y1="252.28" x2="48.45" y2="253.00" stroke="#3a3a3a" stroke-width="0.6" />
<line x1="46.35" y1="252.28" x2="50.55" y2="252.28" stroke="#3a3a3a" stroke-width="0.6" />
<rect x="44.60" y="253.00" width="7.70" height="2.40" fill="#000" stroke="none" stroke-width="0.7"/>
<line x1="59.85" y1="253.72" x2="59.85" y2="254.32" stroke="#3a3a3a" stroke-width="0.6" />
<line x1="57.75" y1="253.72" x2="61.95" y2="253.72" stroke="#3a3a3a" stroke-width="0.6" />
<rect x="56.00" y="254.32" width="7.70" height="1.08" fill="#000" stroke="none" stroke-width="0.7"/>
<line x1="82.85" y1="214.60" x2="82.85" y2="223.00" stroke="#3a3a3a" stroke-width="0.6" />
<line x1="80.75" y1="214.60" x2="84.95" y2="214.60" stroke="#3a3a3a" stroke-width="0.6" />
<rect x="79.00" y="223.00" width="7.70" height="32.40" fill="#000" stroke="none" stroke-width="0.7"/>
<line x1="94.05" y1="253.72" x2="94.05" y2="254.20" stroke="#3a3a3a" stroke-width="0.6" />
<line x1="91.95" y1="253.72" x2="96.15" y2="253.72" stroke="#3a3a3a" stroke-width="0.6" />
<rect x="90.20" y="254.20" width="7.70" height="1.20" fill="#000" stroke="none" stroke-width="0.7"/>
<line x1="105.45" y1="241.36" x2="105.45" y2="247.96" stroke="#3a3a3a" stroke-width="0.6" />
<line x1="103.35" y1="241.36" x2="107.55" y2="241.36" stroke="#3a3a3a" stroke-width="0.6" />
<rect x="101.60" y="247.96" width="7.70" height="7.44" fill="#000" stroke="none" stroke-width="0.7"/>
<line x1="128.25" y1="254.68" x2="128.25" y2="254.92" stroke="#3a3a3a" stroke-width="0.6" />
<line x1="126.15" y1="254.68" x2="130.35" y2="254.68" stroke="#3a3a3a" stroke-width="0.6" />
<rect x="124.40" y="254.92" width="7.70" height="0.48" fill="#000" stroke="none" stroke-width="0.7"/>
<line x1="139.65" y1="254.08" x2="139.65" y2="254.44" stroke="#3a3a3a" stroke-width="0.6" />
<line x1="137.55" y1="254.08" x2="141.75" y2="254.08" stroke="#3a3a3a" stroke-width="0.6" />
<rect x="135.80" y="254.44" width="7.70" height="0.96" fill="#000" stroke="none" stroke-width="0.7"/>
<line x1="151.05" y1="254.08" x2="151.05" y2="254.44" stroke="#3a3a3a" stroke-width="0.6" />
<line x1="148.95" y1="254.08" x2="153.15" y2="254.08" stroke="#3a3a3a" stroke-width="0.6" />
<rect x="147.20" y="254.44" width="7.70" height="0.96" fill="#000" stroke="none" stroke-width="0.7"/>
<line x1="30.00" y1="262.40" x2="160.00" y2="262.40" stroke="#777" stroke-width="0.9" />
<text x="5.40" y="274.00" font-size="7.2" text-anchor="start" font-weight="normal" fill="#111" stroke="#111" stroke-width="0.08" >IL-2</text>
<text x="5.40" y="292.00" font-size="7.2" text-anchor="start" font-weight="normal" fill="#111" stroke="#111" stroke-width="0.08" >IFN-γ</text>
<text x="5.40" y="310.00" font-size="7.2" text-anchor="start" font-weight="normal" fill="#111" stroke="#111" stroke-width="0.08" >IL-17</text>
<line x1="33.80" y1="272.00" x2="37.40" y2="272.00" stroke="#111" stroke-width="0.7" />
<line x1="35.60" y1="270.20" x2="35.60" y2="273.80" stroke="#111" stroke-width="0.7" />
<line x1="47.60" y1="272.60" x2="49.60" y2="272.60" stroke="#222" stroke-width="0.7" />
<line x1="60.20" y1="272.00" x2="63.80" y2="272.00" stroke="#111" stroke-width="0.7" />
<line x1="62.00" y1="270.20" x2="62.00" y2="273.80" stroke="#111" stroke-width="0.7" />
<line x1="79.80" y1="272.00" x2="83.40" y2="272.00" stroke="#111" stroke-width="0.7" />
<line x1="81.60" y1="270.20" x2="81.60" y2="273.80" stroke="#111" stroke-width="0.7" />
<line x1="93.60" y1="272.60" x2="95.60" y2="272.60" stroke="#222" stroke-width="0.7" />
<line x1="106.20" y1="272.00" x2="109.80" y2="272.00" stroke="#111" stroke-width="0.7" />
<line x1="108.00" y1="270.20" x2="108.00" y2="273.80" stroke="#111" stroke-width="0.7" />
<line x1="34.60" y1="290.60" x2="36.60" y2="290.60" stroke="#222" stroke-width="0.7" />
<line x1="46.80" y1="290.00" x2="50.40" y2="290.00" stroke="#111" stroke-width="0.7" />
<line x1="48.60" y1="288.20" x2="48.60" y2="291.80" stroke="#111" stroke-width="0.7" />
<line x1="60.20" y1="290.00" x2="63.80" y2="290.00" stroke="#111" stroke-width="0.7" />
<line x1="62.00" y1="288.20" x2="62.00" y2="291.80" stroke="#111" stroke-width="0.7" />
<line x1="125.80" y1="290.00" x2="129.40" y2="290.00" stroke="#111" stroke-width="0.7" />
<line x1="127.60" y1="288.20" x2="127.60" y2="291.80" stroke="#111" stroke-width="0.7" />
<line x1="139.60" y1="290.60" x2="141.60" y2="290.60" stroke="#222" stroke-width="0.7" />
<line x1="152.20" y1="290.00" x2="155.80" y2="290.00" stroke="#111" stroke-width="0.7" />
<line x1="154.00" y1="288.20" x2="154.00" y2="291.80" stroke="#111" stroke-width="0.7" />
<line x1="80.60" y1="308.60" x2="82.60" y2="308.60" stroke="#222" stroke-width="0.7" />
<line x1="92.80" y1="308.00" x2="96.40" y2="308.00" stroke="#111" stroke-width="0.7" />
<line x1="94.60" y1="306.20" x2="94.60" y2="309.80" stroke="#111" stroke-width="0.7" />
<line x1="106.20" y1="308.00" x2="109.80" y2="308.00" stroke="#111" stroke-width="0.7" />
<line x1="108.00" y1="306.20" x2="108.00" y2="309.80" stroke="#111" stroke-width="0.7" />
<line x1="126.60" y1="308.60" x2="128.60" y2="308.60" stroke="#222" stroke-width="0.7" />
<line x1="138.80" y1="308.00" x2="142.40" y2="308.00" stroke="#111" stroke-width="0.7" />
<line x1="140.60" y1="306.20" x2="140.60" y2="309.80" stroke="#111" stroke-width="0.7" />
<line x1="152.20" y1="308.00" x2="155.80" y2="308.00" stroke="#111" stroke-width="0.7" />
<line x1="154.00" y1="306.20" x2="154.00" y2="309.80" stroke="#111" stroke-width="0.7" />
<line x1="202.10" y1="171.40" x2="202.10" y2="255.40" stroke="#222" stroke-width="0.7" />
<line x1="200.10" y1="255.40" x2="202.10" y2="255.40" stroke="#222" stroke-width="0.6" />
<text x="199.30" y="257.02" font-size="4.5" text-anchor="end" font-weight="normal" fill="#111" stroke="#111" stroke-width="0.1" >0</text>
<line x1="200.10" y1="243.40" x2="202.10" y2="243.40" stroke="#222" stroke-width="0.6" />
<text x="199.30" y="245.02" font-size="4.5" text-anchor="end" font-weight="normal" fill="#111" stroke="#111" stroke-width="0.1" >10</text>
<line x1="200.10" y1="231.40" x2="202.10" y2="231.40" stroke="#222" stroke-width="0.6" />
<text x="199.30" y="233.02" font-size="4.5" text-anchor="end" font-weight="normal" fill="#111" stroke="#111" stroke-width="0.1" >20</text>
<line x1="200.10" y1="219.40" x2="202.10" y2="219.40" stroke="#222" stroke-width="0.6" />
<text x="199.30" y="221.02" font-size="4.5" text-anchor="end" font-weight="normal" fill="#111" stroke="#111" stroke-width="0.1" >30</text>
<line x1="200.10" y1="207.40" x2="202.10" y2="207.40" stroke="#222" stroke-width="0.6" />
<text x="199.30" y="209.02" font-size="4.5" text-anchor="end" font-weight="normal" fill="#111" stroke="#111" stroke-width="0.1" >40</text>
<line x1="200.10" y1="195.40" x2="202.10" y2="195.40" stroke="#222" stroke-width="0.6" />
<text x="199.30" y="197.02" font-size="4.5" text-anchor="end" font-weight="normal" fill="#111" stroke="#111" stroke-width="0.1" >50</text>
<line x1="200.10" y1="183.40" x2="202.10" y2="183.40" stroke="#222" stroke-width="0.6" />
<text x="199.30" y="185.02" font-size="4.5" text-anchor="end" font-weight="normal" fill="#111" stroke="#111" stroke-width="0.1" >60</text>
<line x1="200.10" y1="171.40" x2="202.10" y2="171.40" stroke="#222" stroke-width="0.6" />
<text x="199.30" y="173.02" font-size="4.5" text-anchor="end" font-weight="normal" fill="#111" stroke="#111" stroke-width="0.1" >70</text>
<text transform="translate(186.20,214.40) rotate(-90)" font-size="4.94" text-anchor="middle" fill="#111" stroke="#111" stroke-width="0.08">CD3<tspan font-size="2.96" dy="-1.88">+</tspan><tspan dy="1.88">CD4</tspan><tspan font-size="2.96" dy="-1.88">+</tspan><tspan dy="1.88"> Tcm cytokine pc (%)</tspan></text>
<line x1="216.65" y1="200.56" x2="216.65" y2="211.00" stroke="#3a3a3a" stroke-width="0.6" />
<line x1="214.55" y1="200.56" x2="218.75" y2="200.56" stroke="#3a3a3a" stroke-width="0.6" />
<rect x="212.80" y="211.00" width="7.70" height="44.40" fill="#000" stroke="none" stroke-width="0.7"/>
<line x1="227.85" y1="250.00" x2="227.85" y2="251.92" stroke="#3a3a3a" stroke-width="0.6" />
<line x1="225.75" y1="250.00" x2="229.95" y2="250.00" stroke="#3a3a3a" stroke-width="0.6" />
<rect x="224.00" y="251.92" width="7.70" height="3.48" fill="#000" stroke="none" stroke-width="0.7"/>
<line x1="239.25" y1="246.40" x2="239.25" y2="247.96" stroke="#3a3a3a" stroke-width="0.6" />
<line x1="237.15" y1="246.40" x2="241.35" y2="246.40" stroke="#3a3a3a" stroke-width="0.6" />
<rect x="235.40" y="247.96" width="7.70" height="7.44" fill="#000" stroke="none" stroke-width="0.7"/>
<line x1="262.25" y1="204.40" x2="262.25" y2="211.00" stroke="#3a3a3a" stroke-width="0.6" />
<line x1="260.15" y1="204.40" x2="264.35" y2="204.40" stroke="#3a3a3a" stroke-width="0.6" />
<rect x="258.40" y="211.00" width="7.70" height="44.40" fill="#000" stroke="none" stroke-width="0.7"/>
<line x1="273.45" y1="234.40" x2="273.45" y2="238.36" stroke="#3a3a3a" stroke-width="0.6" />
<line x1="271.35" y1="234.40" x2="275.55" y2="234.40" stroke="#3a3a3a" stroke-width="0.6" />
<rect x="269.60" y="238.36" width="7.70" height="17.04" fill="#000" stroke="none" stroke-width="0.7"/>
<line x1="284.85" y1="229.36" x2="284.85" y2="232.96" stroke="#3a3a3a" stroke-width="0.6" />
<line x1="282.75" y1="229.36" x2="286.95" y2="229.36" stroke="#3a3a3a" stroke-width="0.6" />
<rect x="281.00" y="232.96" width="7.70" height="22.44" fill="#000" stroke="none" stroke-width="0.7"/>
<line x1="307.65" y1="246.04" x2="307.65" y2="247.96" stroke="#3a3a3a" stroke-width="0.6" />
<line x1="305.55" y1="246.04" x2="309.75" y2="246.04" stroke="#3a3a3a" stroke-width="0.6" />
<rect x="303.80" y="247.96" width="7.70" height="7.44" fill="#000" stroke="none" stroke-width="0.7"/>
<line x1="319.05" y1="220.60" x2="319.05" y2="227.44" stroke="#3a3a3a" stroke-width="0.6" />
<line x1="316.95" y1="220.60" x2="321.15" y2="220.60" stroke="#3a3a3a" stroke-width="0.6" />
<rect x="315.20" y="227.44" width="7.70" height="27.96" fill="#000" stroke="none" stroke-width="0.7"/>
<line x1="330.45" y1="248.44" x2="330.45" y2="250.00" stroke="#3a3a3a" stroke-width="0.6" />
<line x1="328.35" y1="248.44" x2="332.55" y2="248.44" stroke="#3a3a3a" stroke-width="0.6" />
<rect x="326.60" y="250.00" width="7.70" height="5.40" fill="#000" stroke="none" stroke-width="0.7"/>
<line x1="209.00" y1="262.40" x2="339.40" y2="262.40" stroke="#777" stroke-width="0.9" />
<text x="185.40" y="274.00" font-size="7.2" text-anchor="start" font-weight="normal" fill="#111" stroke="#111" stroke-width="0.08" >IL-2</text>
<text x="185.40" y="292.00" font-size="7.2" text-anchor="start" font-weight="normal" fill="#111" stroke="#111" stroke-width="0.08" >IFN-γ</text>
<text x="185.40" y="310.00" font-size="7.2" text-anchor="start" font-weight="normal" fill="#111" stroke="#111" stroke-width="0.08" >IL-17</text>
<line x1="213.60" y1="272.00" x2="217.20" y2="272.00" stroke="#111" stroke-width="0.7" />
<line x1="215.40" y1="270.20" x2="215.40" y2="273.80" stroke="#111" stroke-width="0.7" />
<line x1="227.40" y1="272.60" x2="229.40" y2="272.60" stroke="#222" stroke-width="0.7" />
<line x1="240.00" y1="272.00" x2="243.60" y2="272.00" stroke="#111" stroke-width="0.7" />
<line x1="241.80" y1="270.20" x2="241.80" y2="273.80" stroke="#111" stroke-width="0.7" />
<line x1="259.60" y1="272.00" x2="263.20" y2="272.00" stroke="#111" stroke-width="0.7" />
<line x1="261.40" y1="270.20" x2="261.40" y2="273.80" stroke="#111" stroke-width="0.7" />
<line x1="273.40" y1="272.60" x2="275.40" y2="272.60" stroke="#222" stroke-width="0.7" />
<line x1="286.00" y1="272.00" x2="289.60" y2="272.00" stroke="#111" stroke-width="0.7" />
<line x1="287.80" y1="270.20" x2="287.80" y2="273.80" stroke="#111" stroke-width="0.7" />
<line x1="214.40" y1="290.60" x2="216.40" y2="290.60" stroke="#222" stroke-width="0.7" />
<line x1="226.60" y1="290.00" x2="230.20" y2="290.00" stroke="#111" stroke-width="0.7" />
<line x1="228.40" y1="288.20" x2="228.40" y2="291.80" stroke="#111" stroke-width="0.7" />
<line x1="240.00" y1="290.00" x2="243.60" y2="290.00" stroke="#111" stroke-width="0.7" />
<line x1="241.80" y1="288.20" x2="241.80" y2="291.80" stroke="#111" stroke-width="0.7" />
<line x1="305.60" y1="290.00" x2="309.20" y2="290.00" stroke="#111" stroke-width="0.7" />
<line x1="307.40" y1="288.20" x2="307.40" y2="291.80" stroke="#111" stroke-width="0.7" />
<line x1="319.40" y1="290.60" x2="321.40" y2="290.60" stroke="#222" stroke-width="0.7" />
<line x1="332.00" y1="290.00" x2="335.60" y2="290.00" stroke="#111" stroke-width="0.7" />
<line x1="333.80" y1="288.20" x2="333.80" y2="291.80" stroke="#111" stroke-width="0.7" />
<line x1="260.40" y1="308.60" x2="262.40" y2="308.60" stroke="#222" stroke-width="0.7" />
<line x1="272.60" y1="308.00" x2="276.20" y2="308.00" stroke="#111" stroke-width="0.7" />
<line x1="274.40" y1="306.20" x2="274.40" y2="309.80" stroke="#111" stroke-width="0.7" />
<line x1="286.00" y1="308.00" x2="289.60" y2="308.00" stroke="#111" stroke-width="0.7" />
<line x1="287.80" y1="306.20" x2="287.80" y2="309.80" stroke="#111" stroke-width="0.7" />
<line x1="306.40" y1="308.60" x2="308.40" y2="308.60" stroke="#222" stroke-width="0.7" />
<line x1="318.60" y1="308.00" x2="322.20" y2="308.00" stroke="#111" stroke-width="0.7" />
<line x1="320.40" y1="306.20" x2="320.40" y2="309.80" stroke="#111" stroke-width="0.7" />
<line x1="332.00" y1="308.00" x2="335.60" y2="308.00" stroke="#111" stroke-width="0.7" />
<line x1="333.80" y1="306.20" x2="333.80" y2="309.80" stroke="#111" stroke-width="0.7" />
<line x1="381.50" y1="171.40" x2="381.50" y2="255.40" stroke="#222" stroke-width="0.7" />
<line x1="379.50" y1="255.40" x2="381.50" y2="255.40" stroke="#222" stroke-width="0.6" />
<text x="378.70" y="257.02" font-size="4.5" text-anchor="end" font-weight="normal" fill="#111" stroke="#111" stroke-width="0.1" >0</text>
<line x1="379.50" y1="243.40" x2="381.50" y2="243.40" stroke="#222" stroke-width="0.6" />
<text x="378.70" y="245.02" font-size="4.5" text-anchor="end" font-weight="normal" fill="#111" stroke="#111" stroke-width="0.1" >10</text>
<line x1="379.50" y1="231.40" x2="381.50" y2="231.40" stroke="#222" stroke-width="0.6" />
<text x="378.70" y="233.02" font-size="4.5" text-anchor="end" font-weight="normal" fill="#111" stroke="#111" stroke-width="0.1" >20</text>
<line x1="379.50" y1="219.40" x2="381.50" y2="219.40" stroke="#222" stroke-width="0.6" />
<text x="378.70" y="221.02" font-size="4.5" text-anchor="end" font-weight="normal" fill="#111" stroke="#111" stroke-width="0.1" >30</text>
<line x1="379.50" y1="207.40" x2="381.50" y2="207.40" stroke="#222" stroke-width="0.6" />
<text x="378.70" y="209.02" font-size="4.5" text-anchor="end" font-weight="normal" fill="#111" stroke="#111" stroke-width="0.1" >40</text>
<line x1="379.50" y1="195.40" x2="381.50" y2="195.40" stroke="#222" stroke-width="0.6" />
<text x="378.70" y="197.02" font-size="4.5" text-anchor="end" font-weight="normal" fill="#111" stroke="#111" stroke-width="0.1" >50</text>
<line x1="379.50" y1="183.40" x2="381.50" y2="183.40" stroke="#222" stroke-width="0.6" />
<text x="378.70" y="185.02" font-size="4.5" text-anchor="end" font-weight="normal" fill="#111" stroke="#111" stroke-width="0.1" >60</text>
<line x1="379.50" y1="171.40" x2="381.50" y2="171.40" stroke="#222" stroke-width="0.6" />
<text x="378.70" y="173.02" font-size="4.5" text-anchor="end" font-weight="normal" fill="#111" stroke="#111" stroke-width="0.1" >70</text>
<text transform="translate(364.70,213.80) rotate(-90)" font-size="4.94" text-anchor="middle" fill="#111" stroke="#111" stroke-width="0.08">CD3<tspan font-size="2.96" dy="-1.88">+</tspan><tspan dy="1.88">CD4</tspan><tspan font-size="2.96" dy="-1.88">+</tspan><tspan dy="1.88"> Tem cytokine pc (%)</tspan></text>
<line x1="396.25" y1="214.60" x2="396.25" y2="229.00" stroke="#3a3a3a" stroke-width="0.6" />
<line x1="394.15" y1="214.60" x2="398.35" y2="214.60" stroke="#3a3a3a" stroke-width="0.6" />
<rect x="392.40" y="229.00" width="7.70" height="26.40" fill="#000" stroke="none" stroke-width="0.7"/>
<line x1="407.45" y1="240.64" x2="407.45" y2="244.96" stroke="#3a3a3a" stroke-width="0.6" />
<line x1="405.35" y1="240.64" x2="409.55" y2="240.64" stroke="#3a3a3a" stroke-width="0.6" />
<rect x="403.60" y="244.96" width="7.70" height="10.44" fill="#000" stroke="none" stroke-width="0.7"/>
<line x1="418.85" y1="244.36" x2="418.85" y2="249.04" stroke="#3a3a3a" stroke-width="0.6" />
<line x1="416.75" y1="244.36" x2="420.95" y2="244.36" stroke="#3a3a3a" stroke-width="0.6" />
<rect x="415.00" y="249.04" width="7.70" height="6.36" fill="#000" stroke="none" stroke-width="0.7"/>
<line x1="441.85" y1="223.48" x2="441.85" y2="230.44" stroke="#3a3a3a" stroke-width="0.6" />
<line x1="439.75" y1="223.48" x2="443.95" y2="223.48" stroke="#3a3a3a" stroke-width="0.6" />
<rect x="438.00" y="230.44" width="7.70" height="24.96" fill="#000" stroke="none" stroke-width="0.7"/>
<line x1="453.05" y1="230.44" x2="453.05" y2="238.96" stroke="#3a3a3a" stroke-width="0.6" />
<line x1="450.95" y1="230.44" x2="455.15" y2="230.44" stroke="#3a3a3a" stroke-width="0.6" />
<rect x="449.20" y="238.96" width="7.70" height="16.44" fill="#000" stroke="none" stroke-width="0.7"/>
<line x1="464.45" y1="229.36" x2="464.45" y2="232.00" stroke="#3a3a3a" stroke-width="0.6" />
<line x1="462.35" y1="229.36" x2="466.55" y2="229.36" stroke="#3a3a3a" stroke-width="0.6" />
<rect x="460.60" y="232.00" width="7.70" height="23.40" fill="#000" stroke="none" stroke-width="0.7"/>
<line x1="487.25" y1="227.44" x2="487.25" y2="235.00" stroke="#3a3a3a" stroke-width="0.6" />
<line x1="485.15" y1="227.44" x2="489.35" y2="227.44" stroke="#3a3a3a" stroke-width="0.6" />
<rect x="483.40" y="235.00" width="7.70" height="20.40" fill="#000" stroke="none" stroke-width="0.7"/>
<line x1="498.65" y1="244.36" x2="498.65" y2="247.96" stroke="#3a3a3a" stroke-width="0.6" />
<line x1="496.55" y1="244.36" x2="500.75" y2="244.36" stroke="#3a3a3a" stroke-width="0.6" />
<rect x="494.80" y="247.96" width="7.70" height="7.44" fill="#000" stroke="none" stroke-width="0.7"/>
<line x1="510.05" y1="211.36" x2="510.05" y2="223.00" stroke="#3a3a3a" stroke-width="0.6" />
<line x1="507.95" y1="211.36" x2="512.15" y2="211.36" stroke="#3a3a3a" stroke-width="0.6" />
<rect x="506.20" y="223.00" width="7.70" height="32.40" fill="#000" stroke="none" stroke-width="0.7"/>
<line x1="389.00" y1="262.40" x2="520.00" y2="262.40" stroke="#777" stroke-width="0.9" />
<text x="365.80" y="274.00" font-size="7.2" text-anchor="start" font-weight="normal" fill="#111" stroke="#111" stroke-width="0.08" >IL-2</text>
<text x="365.80" y="292.00" font-size="7.2" text-anchor="start" font-weight="normal" fill="#111" stroke="#111" stroke-width="0.08" >IFN-γ</text>
<text x="365.80" y="310.00" font-size="7.2" text-anchor="start" font-weight="normal" fill="#111" stroke="#111" stroke-width="0.08" >IL-17</text>
<line x1="394.20" y1="272.00" x2="397.80" y2="272.00" stroke="#111" stroke-width="0.7" />
<line x1="396.00" y1="270.20" x2="396.00" y2="273.80" stroke="#111" stroke-width="0.7" />
<line x1="408.00" y1="272.60" x2="410.00" y2="272.60" stroke="#222" stroke-width="0.7" />
<line x1="420.60" y1="272.00" x2="424.20" y2="272.00" stroke="#111" stroke-width="0.7" />
<line x1="422.40" y1="270.20" x2="422.40" y2="273.80" stroke="#111" stroke-width="0.7" />
<line x1="440.20" y1="272.00" x2="443.80" y2="272.00" stroke="#111" stroke-width="0.7" />
<line x1="442.00" y1="270.20" x2="442.00" y2="273.80" stroke="#111" stroke-width="0.7" />
<line x1="454.00" y1="272.60" x2="456.00" y2="272.60" stroke="#222" stroke-width="0.7" />
<line x1="466.60" y1="272.00" x2="470.20" y2="272.00" stroke="#111" stroke-width="0.7" />
<line x1="468.40" y1="270.20" x2="468.40" y2="273.80" stroke="#111" stroke-width="0.7" />
<line x1="395.00" y1="290.60" x2="397.00" y2="290.60" stroke="#222" stroke-width="0.7" />
<line x1="407.20" y1="290.00" x2="410.80" y2="290.00" stroke="#111" stroke-width="0.7" />
<line x1="409.00" y1="288.20" x2="409.00" y2="291.80" stroke="#111" stroke-width="0.7" />
<line x1="420.60" y1="290.00" x2="424.20" y2="290.00" stroke="#111" stroke-width="0.7" />
<line x1="422.40" y1="288.20" x2="422.40" y2="291.80" stroke="#111" stroke-width="0.7" />
<line x1="486.20" y1="290.00" x2="489.80" y2="290.00" stroke="#111" stroke-width="0.7" />
<line x1="488.00" y1="288.20" x2="488.00" y2="291.80" stroke="#111" stroke-width="0.7" />
<line x1="500.00" y1="290.60" x2="502.00" y2="290.60" stroke="#222" stroke-width="0.7" />
<line x1="512.60" y1="290.00" x2="516.20" y2="290.00" stroke="#111" stroke-width="0.7" />
<line x1="514.40" y1="288.20" x2="514.40" y2="291.80" stroke="#111" stroke-width="0.7" />
<line x1="441.00" y1="308.60" x2="443.00" y2="308.60" stroke="#222" stroke-width="0.7" />
<line x1="453.20" y1="308.00" x2="456.80" y2="308.00" stroke="#111" stroke-width="0.7" />
<line x1="455.00" y1="306.20" x2="455.00" y2="309.80" stroke="#111" stroke-width="0.7" />
<line x1="466.60" y1="308.00" x2="470.20" y2="308.00" stroke="#111" stroke-width="0.7" />
<line x1="468.40" y1="306.20" x2="468.40" y2="309.80" stroke="#111" stroke-width="0.7" />
<line x1="487.00" y1="308.60" x2="489.00" y2="308.60" stroke="#222" stroke-width="0.7" />
<line x1="499.20" y1="308.00" x2="502.80" y2="308.00" stroke="#111" stroke-width="0.7" />
<line x1="501.00" y1="306.20" x2="501.00" y2="309.80" stroke="#111" stroke-width="0.7" />
<line x1="512.60" y1="308.00" x2="516.20" y2="308.00" stroke="#111" stroke-width="0.7" />
<line x1="514.40" y1="306.20" x2="514.40" y2="309.80" stroke="#111" stroke-width="0.7" />
</svg>
</body></html>
